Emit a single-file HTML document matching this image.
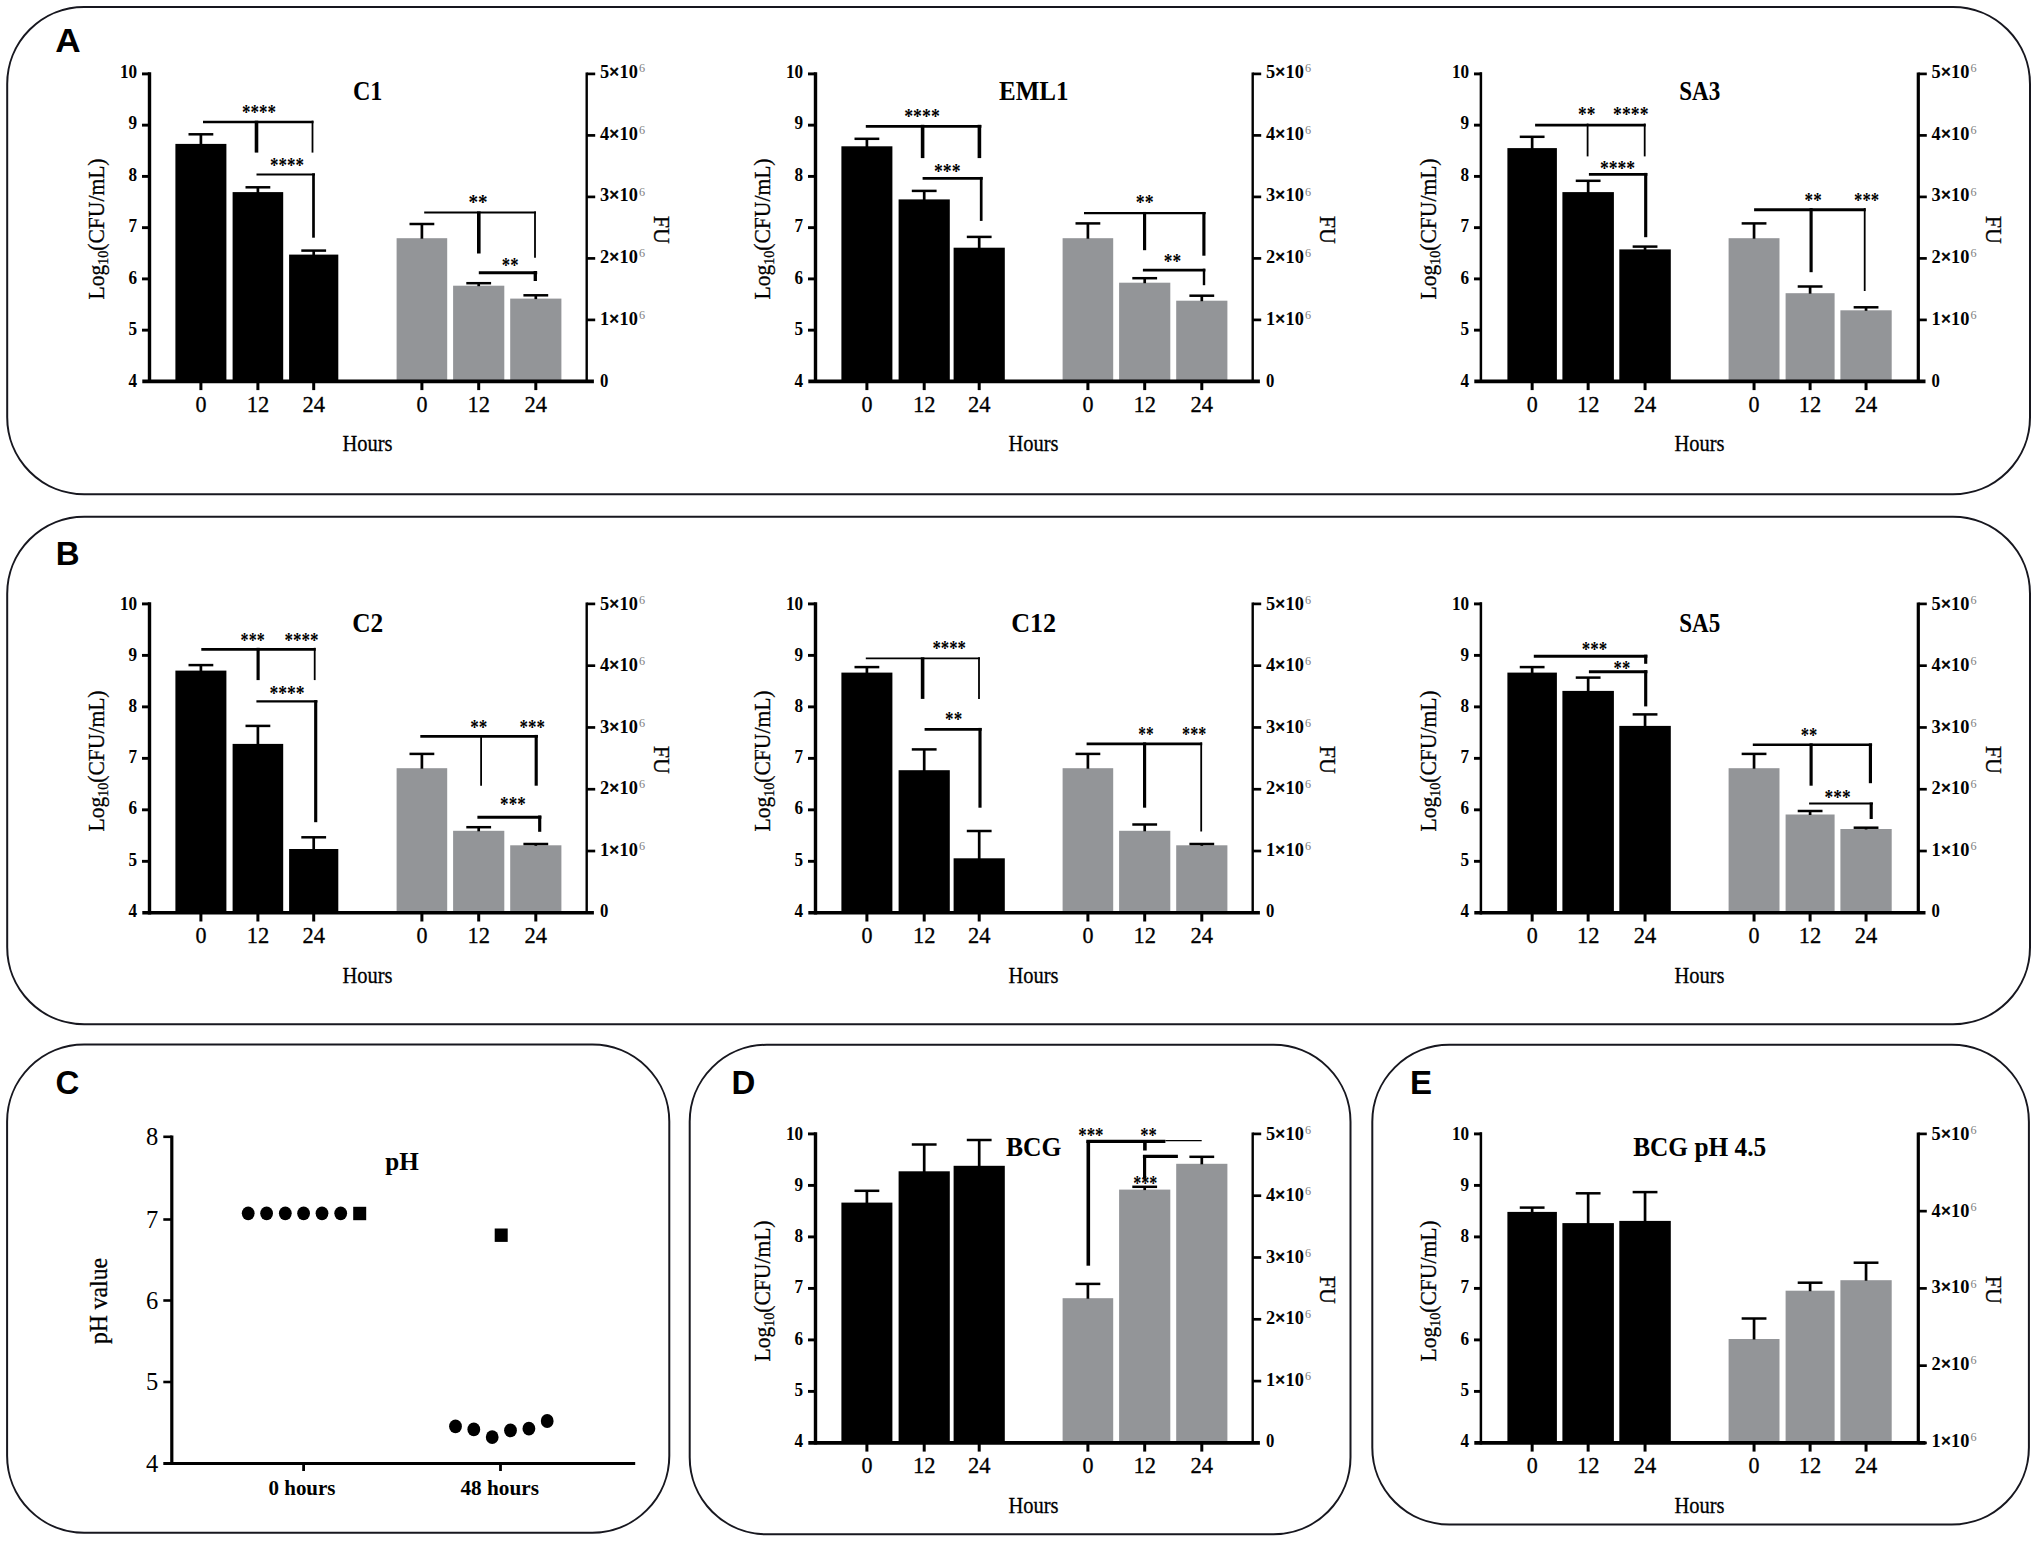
<!DOCTYPE html>
<html lang="en">
<head>
<meta charset="utf-8">
<title>Figure</title>
<style>
html,body{margin:0;padding:0;background:#fff;}
body{width:2038px;height:1543px;overflow:hidden;}
svg{display:block;}
text{white-space:pre;}
</style>
</head>
<body>
<svg width="2038" height="1543" viewBox="0 0 2038 1543">
<rect width="2038" height="1543" fill="#ffffff"/>
<rect x="7.2" y="6.9" width="2022.8" height="487.4" rx="77" ry="77" fill="none" stroke="#17171f" stroke-width="2"/>
<rect x="7.2" y="516.7" width="2022.8" height="507.6" rx="77" ry="77" fill="none" stroke="#17171f" stroke-width="2"/>
<rect x="7.1" y="1044.6" width="662.2" height="488.1" rx="77" ry="77" fill="none" stroke="#17171f" stroke-width="2"/>
<rect x="689.7" y="1044.8" width="660.8" height="489.5" rx="77" ry="77" fill="none" stroke="#17171f" stroke-width="2"/>
<rect x="1372.3" y="1044.8" width="656.6" height="479.7" rx="77" ry="77" fill="none" stroke="#17171f" stroke-width="2"/>
<text x="55.3" y="52" font-size="33" font-family='"Liberation Sans", "DejaVu Sans", sans-serif' text-anchor="start" fill="#000" font-weight="bold" textLength="25.4" lengthAdjust="spacingAndGlyphs" >A</text>
<text x="55.7" y="564.6" font-size="33" font-family='"Liberation Sans", "DejaVu Sans", sans-serif' text-anchor="start" fill="#000" font-weight="bold" >B</text>
<text x="55.5" y="1093.5" font-size="33" font-family='"Liberation Sans", "DejaVu Sans", sans-serif' text-anchor="start" fill="#000" font-weight="bold" >C</text>
<text x="731.5" y="1093.5" font-size="33" font-family='"Liberation Sans", "DejaVu Sans", sans-serif' text-anchor="start" fill="#000" font-weight="bold" >D</text>
<text x="1410" y="1093.5" font-size="33" font-family='"Liberation Sans", "DejaVu Sans", sans-serif' text-anchor="start" fill="#000" font-weight="bold" >E</text>
<rect x="175.4" y="143.9" width="51" height="237.5" fill="#000"/>
<line x1="200.9" y1="134.3" x2="200.9" y2="144.9" stroke="#000" stroke-width="2.7" stroke-linecap="butt"/>
<line x1="188.5" y1="134.3" x2="213.3" y2="134.3" stroke="#000" stroke-width="2.5" stroke-linecap="butt"/>
<rect x="232.6" y="192.1" width="50.6" height="189.3" fill="#000"/>
<line x1="257.9" y1="187.3" x2="257.9" y2="193.1" stroke="#000" stroke-width="2.7" stroke-linecap="butt"/>
<line x1="245.5" y1="187.3" x2="270.3" y2="187.3" stroke="#000" stroke-width="2.5" stroke-linecap="butt"/>
<rect x="289.1" y="254.6" width="49.2" height="126.8" fill="#000"/>
<line x1="313.7" y1="250.6" x2="313.7" y2="255.6" stroke="#000" stroke-width="2.7" stroke-linecap="butt"/>
<line x1="301.3" y1="250.6" x2="326.1" y2="250.6" stroke="#000" stroke-width="2.5" stroke-linecap="butt"/>
<rect x="396.6" y="238.2" width="50.6" height="143.2" fill="#939598"/>
<line x1="421.9" y1="224" x2="421.9" y2="238.7" stroke="#000" stroke-width="2.7" stroke-linecap="butt"/>
<line x1="409.5" y1="224" x2="434.3" y2="224" stroke="#000" stroke-width="2.5" stroke-linecap="butt"/>
<rect x="453.1" y="285.7" width="51.2" height="95.7" fill="#939598"/>
<line x1="478.7" y1="283.2" x2="478.7" y2="286.2" stroke="#000" stroke-width="2.7" stroke-linecap="butt"/>
<line x1="466.3" y1="283.2" x2="491.1" y2="283.2" stroke="#000" stroke-width="2.5" stroke-linecap="butt"/>
<rect x="510.2" y="298.6" width="51.2" height="82.8" fill="#939598"/>
<line x1="535.8" y1="295.3" x2="535.8" y2="299.1" stroke="#000" stroke-width="2.7" stroke-linecap="butt"/>
<line x1="523.4" y1="295.3" x2="548.2" y2="295.3" stroke="#000" stroke-width="2.5" stroke-linecap="butt"/>
<line x1="149.5" y1="72.2" x2="149.5" y2="383.1" stroke="#000" stroke-width="3.4" stroke-linecap="butt"/>
<line x1="142.3" y1="381.4" x2="593.9" y2="381.4" stroke="#000" stroke-width="3.6" stroke-linecap="butt"/>
<line x1="586.7" y1="72.6" x2="586.7" y2="381.4" stroke="#000" stroke-width="2.4" stroke-linecap="butt"/>
<line x1="142" y1="73.9" x2="149.5" y2="73.9" stroke="#000" stroke-width="2.9" stroke-linecap="butt"/>
<text transform="translate(137.2 78) scale(0.88 1)" font-size="19.5" font-family='"Liberation Serif", "DejaVu Serif", serif' font-weight="bold" text-anchor="end">10</text>
<line x1="142" y1="125.15" x2="149.5" y2="125.15" stroke="#000" stroke-width="2.9" stroke-linecap="butt"/>
<text transform="translate(137.2 129.47) scale(0.88 1)" font-size="19.5" font-family='"Liberation Serif", "DejaVu Serif", serif' font-weight="bold" text-anchor="end">9</text>
<line x1="142" y1="176.4" x2="149.5" y2="176.4" stroke="#000" stroke-width="2.9" stroke-linecap="butt"/>
<text transform="translate(137.2 180.93) scale(0.88 1)" font-size="19.5" font-family='"Liberation Serif", "DejaVu Serif", serif' font-weight="bold" text-anchor="end">8</text>
<line x1="142" y1="227.65" x2="149.5" y2="227.65" stroke="#000" stroke-width="2.9" stroke-linecap="butt"/>
<text transform="translate(137.2 232.4) scale(0.88 1)" font-size="19.5" font-family='"Liberation Serif", "DejaVu Serif", serif' font-weight="bold" text-anchor="end">7</text>
<line x1="142" y1="278.9" x2="149.5" y2="278.9" stroke="#000" stroke-width="2.9" stroke-linecap="butt"/>
<text transform="translate(137.2 283.87) scale(0.88 1)" font-size="19.5" font-family='"Liberation Serif", "DejaVu Serif", serif' font-weight="bold" text-anchor="end">6</text>
<line x1="142" y1="330.15" x2="149.5" y2="330.15" stroke="#000" stroke-width="2.9" stroke-linecap="butt"/>
<text transform="translate(137.2 335.33) scale(0.88 1)" font-size="19.5" font-family='"Liberation Serif", "DejaVu Serif", serif' font-weight="bold" text-anchor="end">5</text>
<text transform="translate(137.2 386.8) scale(0.88 1)" font-size="19.5" font-family='"Liberation Serif", "DejaVu Serif", serif' font-weight="bold" text-anchor="end">4</text>
<line x1="586.7" y1="73.9" x2="595.2" y2="73.9" stroke="#000" stroke-width="2.7" stroke-linecap="butt"/>
<text transform="translate(599.9 77.6) scale(0.94 1)" font-size="19.5" font-family='"Liberation Serif", "DejaVu Serif", serif' font-weight="bold">5<tspan stroke="#000" stroke-width="0.7">×</tspan>10<tspan font-size="13" font-weight="normal" fill="#808080" dx="1.2" dy="-5.9">6</tspan></text>
<line x1="586.7" y1="135.4" x2="595.2" y2="135.4" stroke="#000" stroke-width="2.7" stroke-linecap="butt"/>
<text transform="translate(599.9 139.5) scale(0.94 1)" font-size="19.5" font-family='"Liberation Serif", "DejaVu Serif", serif' font-weight="bold">4<tspan stroke="#000" stroke-width="0.7">×</tspan>10<tspan font-size="13" font-weight="normal" fill="#808080" dx="1.2" dy="-5.9">6</tspan></text>
<line x1="586.7" y1="196.9" x2="595.2" y2="196.9" stroke="#000" stroke-width="2.7" stroke-linecap="butt"/>
<text transform="translate(599.9 201.4) scale(0.94 1)" font-size="19.5" font-family='"Liberation Serif", "DejaVu Serif", serif' font-weight="bold">3<tspan stroke="#000" stroke-width="0.7">×</tspan>10<tspan font-size="13" font-weight="normal" fill="#808080" dx="1.2" dy="-5.9">6</tspan></text>
<line x1="586.7" y1="258.4" x2="595.2" y2="258.4" stroke="#000" stroke-width="2.7" stroke-linecap="butt"/>
<text transform="translate(599.9 263.3) scale(0.94 1)" font-size="19.5" font-family='"Liberation Serif", "DejaVu Serif", serif' font-weight="bold">2<tspan stroke="#000" stroke-width="0.7">×</tspan>10<tspan font-size="13" font-weight="normal" fill="#808080" dx="1.2" dy="-5.9">6</tspan></text>
<line x1="586.7" y1="319.9" x2="595.2" y2="319.9" stroke="#000" stroke-width="2.7" stroke-linecap="butt"/>
<text transform="translate(599.9 325.2) scale(0.94 1)" font-size="19.5" font-family='"Liberation Serif", "DejaVu Serif", serif' font-weight="bold">1<tspan stroke="#000" stroke-width="0.7">×</tspan>10<tspan font-size="13" font-weight="normal" fill="#808080" dx="1.2" dy="-5.9">6</tspan></text>
<text transform="translate(599.9 387.1) scale(0.88 1)" font-size="19" font-family='"Liberation Serif", "DejaVu Serif", serif' font-weight="bold">0</text>
<line x1="200.9" y1="381.4" x2="200.9" y2="390.1" stroke="#000" stroke-width="3" stroke-linecap="butt"/>
<text x="200.9" y="412.3" font-size="23.5" font-family='"Liberation Serif", "DejaVu Serif", serif' text-anchor="middle" fill="#000" textLength="11" lengthAdjust="spacingAndGlyphs" stroke="#000" stroke-width="0.3">0</text>
<line x1="257.9" y1="381.4" x2="257.9" y2="390.1" stroke="#000" stroke-width="3" stroke-linecap="butt"/>
<text x="257.9" y="412.3" font-size="23.5" font-family='"Liberation Serif", "DejaVu Serif", serif' text-anchor="middle" fill="#000" textLength="22.5" lengthAdjust="spacingAndGlyphs" stroke="#000" stroke-width="0.3">12</text>
<line x1="313.7" y1="381.4" x2="313.7" y2="390.1" stroke="#000" stroke-width="3" stroke-linecap="butt"/>
<text x="313.7" y="412.3" font-size="23.5" font-family='"Liberation Serif", "DejaVu Serif", serif' text-anchor="middle" fill="#000" textLength="22.5" lengthAdjust="spacingAndGlyphs" stroke="#000" stroke-width="0.3">24</text>
<line x1="421.9" y1="381.4" x2="421.9" y2="390.1" stroke="#000" stroke-width="3" stroke-linecap="butt"/>
<text x="421.9" y="412.3" font-size="23.5" font-family='"Liberation Serif", "DejaVu Serif", serif' text-anchor="middle" fill="#000" textLength="11" lengthAdjust="spacingAndGlyphs" stroke="#000" stroke-width="0.3">0</text>
<line x1="478.7" y1="381.4" x2="478.7" y2="390.1" stroke="#000" stroke-width="3" stroke-linecap="butt"/>
<text x="478.7" y="412.3" font-size="23.5" font-family='"Liberation Serif", "DejaVu Serif", serif' text-anchor="middle" fill="#000" textLength="22.5" lengthAdjust="spacingAndGlyphs" stroke="#000" stroke-width="0.3">12</text>
<line x1="535.8" y1="381.4" x2="535.8" y2="390.1" stroke="#000" stroke-width="3" stroke-linecap="butt"/>
<text x="535.8" y="412.3" font-size="23.5" font-family='"Liberation Serif", "DejaVu Serif", serif' text-anchor="middle" fill="#000" textLength="22.5" lengthAdjust="spacingAndGlyphs" stroke="#000" stroke-width="0.3">24</text>
<text x="367.5" y="451.1" font-size="23.5" font-family='"Liberation Serif", "DejaVu Serif", serif' text-anchor="middle" fill="#000" textLength="50" lengthAdjust="spacingAndGlyphs" stroke="#000" stroke-width="0.3">Hours</text>
<text x="367.7" y="100.2" font-size="28" font-family='"Liberation Serif", "DejaVu Serif", serif' text-anchor="middle" fill="#000" font-weight="bold" textLength="29.5" lengthAdjust="spacingAndGlyphs" >C1</text>
<text transform="translate(104 229) rotate(-90)" font-size="23" stroke="#000" stroke-width="0.3" font-family='"Liberation Serif", "DejaVu Serif", serif' text-anchor="middle" textLength="141" lengthAdjust="spacingAndGlyphs">Log<tspan font-size="15" dy="4">10</tspan><tspan dy="-4">(CFU/mL)</tspan></text>
<text transform="translate(654.3 229.7) rotate(90)" font-size="24" stroke="#000" stroke-width="0.3" font-family='"Liberation Serif", "DejaVu Serif", serif' text-anchor="middle" textLength="28" lengthAdjust="spacingAndGlyphs">FU</text>
<line x1="203" y1="122" x2="313.5" y2="122" stroke="#000" stroke-width="2.34" stroke-linecap="butt"/>
<line x1="256.5" y1="120.7" x2="256.5" y2="152.6" stroke="#000" stroke-width="3.6" stroke-linecap="butt"/>
<line x1="312.5" y1="120.7" x2="312.5" y2="152.6" stroke="#000" stroke-width="1.8" stroke-linecap="butt"/>
<line x1="256.5" y1="174.4" x2="315" y2="174.4" stroke="#000" stroke-width="1.98" stroke-linecap="butt"/>
<line x1="313.5" y1="173.3" x2="313.5" y2="237.7" stroke="#000" stroke-width="2.7" stroke-linecap="butt"/>
<line x1="424.2" y1="212.5" x2="536" y2="212.5" stroke="#000" stroke-width="1.98" stroke-linecap="butt"/>
<line x1="478.8" y1="211.4" x2="478.8" y2="253.5" stroke="#000" stroke-width="3.6" stroke-linecap="butt"/>
<line x1="535" y1="211.4" x2="535" y2="257.7" stroke="#000" stroke-width="1.8" stroke-linecap="butt"/>
<line x1="478.8" y1="272.7" x2="537.2" y2="272.7" stroke="#000" stroke-width="3.06" stroke-linecap="butt"/>
<line x1="535.3" y1="271" x2="535.3" y2="281" stroke="#000" stroke-width="3.33" stroke-linecap="butt"/>
<text x="242" y="119.14" font-size="20.5" font-family='"Liberation Serif", "DejaVu Serif", serif' text-anchor="start" fill="#000" font-weight="bold" textLength="34" lengthAdjust="spacingAndGlyphs" >****</text>
<text x="270" y="172.14" font-size="20.5" font-family='"Liberation Serif", "DejaVu Serif", serif' text-anchor="start" fill="#000" font-weight="bold" textLength="34" lengthAdjust="spacingAndGlyphs" >****</text>
<text x="468.5" y="209.34" font-size="20.5" font-family='"Liberation Serif", "DejaVu Serif", serif' text-anchor="start" fill="#000" font-weight="bold" textLength="19.1" lengthAdjust="spacingAndGlyphs" >**</text>
<text x="501.8" y="271.84" font-size="20.5" font-family='"Liberation Serif", "DejaVu Serif", serif' text-anchor="start" fill="#000" font-weight="bold" textLength="16.7" lengthAdjust="spacingAndGlyphs" >**</text>
<rect x="841.4" y="146.3" width="51" height="235.1" fill="#000"/>
<line x1="866.9" y1="138.8" x2="866.9" y2="147.3" stroke="#000" stroke-width="2.7" stroke-linecap="butt"/>
<line x1="854.5" y1="138.8" x2="879.3" y2="138.8" stroke="#000" stroke-width="2.5" stroke-linecap="butt"/>
<rect x="898.6" y="199.4" width="51.2" height="182" fill="#000"/>
<line x1="924.2" y1="190.9" x2="924.2" y2="200.4" stroke="#000" stroke-width="2.7" stroke-linecap="butt"/>
<line x1="911.8" y1="190.9" x2="936.6" y2="190.9" stroke="#000" stroke-width="2.5" stroke-linecap="butt"/>
<rect x="953.6" y="247.7" width="51.2" height="133.7" fill="#000"/>
<line x1="979.2" y1="236.9" x2="979.2" y2="248.7" stroke="#000" stroke-width="2.7" stroke-linecap="butt"/>
<line x1="966.8" y1="236.9" x2="991.6" y2="236.9" stroke="#000" stroke-width="2.5" stroke-linecap="butt"/>
<rect x="1062.6" y="238.2" width="50.6" height="143.2" fill="#939598"/>
<line x1="1087.9" y1="223.4" x2="1087.9" y2="238.7" stroke="#000" stroke-width="2.7" stroke-linecap="butt"/>
<line x1="1075.5" y1="223.4" x2="1100.3" y2="223.4" stroke="#000" stroke-width="2.5" stroke-linecap="butt"/>
<rect x="1119.1" y="282.7" width="51.2" height="98.7" fill="#939598"/>
<line x1="1144.7" y1="278.2" x2="1144.7" y2="283.2" stroke="#000" stroke-width="2.7" stroke-linecap="butt"/>
<line x1="1132.3" y1="278.2" x2="1157.1" y2="278.2" stroke="#000" stroke-width="2.5" stroke-linecap="butt"/>
<rect x="1176.2" y="300.7" width="51.2" height="80.7" fill="#939598"/>
<line x1="1201.8" y1="295.7" x2="1201.8" y2="301.2" stroke="#000" stroke-width="2.7" stroke-linecap="butt"/>
<line x1="1189.4" y1="295.7" x2="1214.2" y2="295.7" stroke="#000" stroke-width="2.5" stroke-linecap="butt"/>
<line x1="815.5" y1="72.2" x2="815.5" y2="383.1" stroke="#000" stroke-width="3.4" stroke-linecap="butt"/>
<line x1="808.3" y1="381.4" x2="1259.9" y2="381.4" stroke="#000" stroke-width="3.6" stroke-linecap="butt"/>
<line x1="1252.7" y1="72.6" x2="1252.7" y2="381.4" stroke="#000" stroke-width="2.4" stroke-linecap="butt"/>
<line x1="808" y1="73.9" x2="815.5" y2="73.9" stroke="#000" stroke-width="2.9" stroke-linecap="butt"/>
<text transform="translate(803.2 78) scale(0.88 1)" font-size="19.5" font-family='"Liberation Serif", "DejaVu Serif", serif' font-weight="bold" text-anchor="end">10</text>
<line x1="808" y1="125.15" x2="815.5" y2="125.15" stroke="#000" stroke-width="2.9" stroke-linecap="butt"/>
<text transform="translate(803.2 129.47) scale(0.88 1)" font-size="19.5" font-family='"Liberation Serif", "DejaVu Serif", serif' font-weight="bold" text-anchor="end">9</text>
<line x1="808" y1="176.4" x2="815.5" y2="176.4" stroke="#000" stroke-width="2.9" stroke-linecap="butt"/>
<text transform="translate(803.2 180.93) scale(0.88 1)" font-size="19.5" font-family='"Liberation Serif", "DejaVu Serif", serif' font-weight="bold" text-anchor="end">8</text>
<line x1="808" y1="227.65" x2="815.5" y2="227.65" stroke="#000" stroke-width="2.9" stroke-linecap="butt"/>
<text transform="translate(803.2 232.4) scale(0.88 1)" font-size="19.5" font-family='"Liberation Serif", "DejaVu Serif", serif' font-weight="bold" text-anchor="end">7</text>
<line x1="808" y1="278.9" x2="815.5" y2="278.9" stroke="#000" stroke-width="2.9" stroke-linecap="butt"/>
<text transform="translate(803.2 283.87) scale(0.88 1)" font-size="19.5" font-family='"Liberation Serif", "DejaVu Serif", serif' font-weight="bold" text-anchor="end">6</text>
<line x1="808" y1="330.15" x2="815.5" y2="330.15" stroke="#000" stroke-width="2.9" stroke-linecap="butt"/>
<text transform="translate(803.2 335.33) scale(0.88 1)" font-size="19.5" font-family='"Liberation Serif", "DejaVu Serif", serif' font-weight="bold" text-anchor="end">5</text>
<text transform="translate(803.2 386.8) scale(0.88 1)" font-size="19.5" font-family='"Liberation Serif", "DejaVu Serif", serif' font-weight="bold" text-anchor="end">4</text>
<line x1="1252.7" y1="73.9" x2="1261.2" y2="73.9" stroke="#000" stroke-width="2.7" stroke-linecap="butt"/>
<text transform="translate(1265.9 77.6) scale(0.94 1)" font-size="19.5" font-family='"Liberation Serif", "DejaVu Serif", serif' font-weight="bold">5<tspan stroke="#000" stroke-width="0.7">×</tspan>10<tspan font-size="13" font-weight="normal" fill="#808080" dx="1.2" dy="-5.9">6</tspan></text>
<line x1="1252.7" y1="135.4" x2="1261.2" y2="135.4" stroke="#000" stroke-width="2.7" stroke-linecap="butt"/>
<text transform="translate(1265.9 139.5) scale(0.94 1)" font-size="19.5" font-family='"Liberation Serif", "DejaVu Serif", serif' font-weight="bold">4<tspan stroke="#000" stroke-width="0.7">×</tspan>10<tspan font-size="13" font-weight="normal" fill="#808080" dx="1.2" dy="-5.9">6</tspan></text>
<line x1="1252.7" y1="196.9" x2="1261.2" y2="196.9" stroke="#000" stroke-width="2.7" stroke-linecap="butt"/>
<text transform="translate(1265.9 201.4) scale(0.94 1)" font-size="19.5" font-family='"Liberation Serif", "DejaVu Serif", serif' font-weight="bold">3<tspan stroke="#000" stroke-width="0.7">×</tspan>10<tspan font-size="13" font-weight="normal" fill="#808080" dx="1.2" dy="-5.9">6</tspan></text>
<line x1="1252.7" y1="258.4" x2="1261.2" y2="258.4" stroke="#000" stroke-width="2.7" stroke-linecap="butt"/>
<text transform="translate(1265.9 263.3) scale(0.94 1)" font-size="19.5" font-family='"Liberation Serif", "DejaVu Serif", serif' font-weight="bold">2<tspan stroke="#000" stroke-width="0.7">×</tspan>10<tspan font-size="13" font-weight="normal" fill="#808080" dx="1.2" dy="-5.9">6</tspan></text>
<line x1="1252.7" y1="319.9" x2="1261.2" y2="319.9" stroke="#000" stroke-width="2.7" stroke-linecap="butt"/>
<text transform="translate(1265.9 325.2) scale(0.94 1)" font-size="19.5" font-family='"Liberation Serif", "DejaVu Serif", serif' font-weight="bold">1<tspan stroke="#000" stroke-width="0.7">×</tspan>10<tspan font-size="13" font-weight="normal" fill="#808080" dx="1.2" dy="-5.9">6</tspan></text>
<text transform="translate(1265.9 387.1) scale(0.88 1)" font-size="19" font-family='"Liberation Serif", "DejaVu Serif", serif' font-weight="bold">0</text>
<line x1="866.9" y1="381.4" x2="866.9" y2="390.1" stroke="#000" stroke-width="3" stroke-linecap="butt"/>
<text x="866.9" y="412.3" font-size="23.5" font-family='"Liberation Serif", "DejaVu Serif", serif' text-anchor="middle" fill="#000" textLength="11" lengthAdjust="spacingAndGlyphs" stroke="#000" stroke-width="0.3">0</text>
<line x1="924.2" y1="381.4" x2="924.2" y2="390.1" stroke="#000" stroke-width="3" stroke-linecap="butt"/>
<text x="924.2" y="412.3" font-size="23.5" font-family='"Liberation Serif", "DejaVu Serif", serif' text-anchor="middle" fill="#000" textLength="22.5" lengthAdjust="spacingAndGlyphs" stroke="#000" stroke-width="0.3">12</text>
<line x1="979.2" y1="381.4" x2="979.2" y2="390.1" stroke="#000" stroke-width="3" stroke-linecap="butt"/>
<text x="979.2" y="412.3" font-size="23.5" font-family='"Liberation Serif", "DejaVu Serif", serif' text-anchor="middle" fill="#000" textLength="22.5" lengthAdjust="spacingAndGlyphs" stroke="#000" stroke-width="0.3">24</text>
<line x1="1087.9" y1="381.4" x2="1087.9" y2="390.1" stroke="#000" stroke-width="3" stroke-linecap="butt"/>
<text x="1087.9" y="412.3" font-size="23.5" font-family='"Liberation Serif", "DejaVu Serif", serif' text-anchor="middle" fill="#000" textLength="11" lengthAdjust="spacingAndGlyphs" stroke="#000" stroke-width="0.3">0</text>
<line x1="1144.7" y1="381.4" x2="1144.7" y2="390.1" stroke="#000" stroke-width="3" stroke-linecap="butt"/>
<text x="1144.7" y="412.3" font-size="23.5" font-family='"Liberation Serif", "DejaVu Serif", serif' text-anchor="middle" fill="#000" textLength="22.5" lengthAdjust="spacingAndGlyphs" stroke="#000" stroke-width="0.3">12</text>
<line x1="1201.8" y1="381.4" x2="1201.8" y2="390.1" stroke="#000" stroke-width="3" stroke-linecap="butt"/>
<text x="1201.8" y="412.3" font-size="23.5" font-family='"Liberation Serif", "DejaVu Serif", serif' text-anchor="middle" fill="#000" textLength="22.5" lengthAdjust="spacingAndGlyphs" stroke="#000" stroke-width="0.3">24</text>
<text x="1033.5" y="451.1" font-size="23.5" font-family='"Liberation Serif", "DejaVu Serif", serif' text-anchor="middle" fill="#000" textLength="50" lengthAdjust="spacingAndGlyphs" stroke="#000" stroke-width="0.3">Hours</text>
<text x="1033.7" y="100.2" font-size="28" font-family='"Liberation Serif", "DejaVu Serif", serif' text-anchor="middle" fill="#000" font-weight="bold" textLength="69.5" lengthAdjust="spacingAndGlyphs" >EML1</text>
<text transform="translate(770 229) rotate(-90)" font-size="23" stroke="#000" stroke-width="0.3" font-family='"Liberation Serif", "DejaVu Serif", serif' text-anchor="middle" textLength="141" lengthAdjust="spacingAndGlyphs">Log<tspan font-size="15" dy="4">10</tspan><tspan dy="-4">(CFU/mL)</tspan></text>
<text transform="translate(1320.3 229.7) rotate(90)" font-size="24" stroke="#000" stroke-width="0.3" font-family='"Liberation Serif", "DejaVu Serif", serif' text-anchor="middle" textLength="28" lengthAdjust="spacingAndGlyphs">FU</text>
<line x1="865.8" y1="126.3" x2="981.4" y2="126.3" stroke="#000" stroke-width="2.7" stroke-linecap="butt"/>
<line x1="922.6" y1="124.8" x2="922.6" y2="158.1" stroke="#000" stroke-width="3.6" stroke-linecap="butt"/>
<line x1="979.4" y1="124.8" x2="979.4" y2="158.1" stroke="#000" stroke-width="3.6" stroke-linecap="butt"/>
<line x1="922.6" y1="178.4" x2="982.7" y2="178.4" stroke="#000" stroke-width="2.7" stroke-linecap="butt"/>
<line x1="981.2" y1="176.9" x2="981.2" y2="220.9" stroke="#000" stroke-width="2.7" stroke-linecap="butt"/>
<line x1="1084" y1="213.2" x2="1205.6" y2="213.2" stroke="#000" stroke-width="2.25" stroke-linecap="butt"/>
<line x1="1144.6" y1="211.95" x2="1144.6" y2="250.2" stroke="#000" stroke-width="3.15" stroke-linecap="butt"/>
<line x1="1203.9" y1="211.95" x2="1203.9" y2="255.7" stroke="#000" stroke-width="3.15" stroke-linecap="butt"/>
<line x1="1142.9" y1="270.2" x2="1205.4" y2="270.2" stroke="#000" stroke-width="2.7" stroke-linecap="butt"/>
<line x1="1204" y1="268.7" x2="1204" y2="285.2" stroke="#000" stroke-width="2.43" stroke-linecap="butt"/>
<text x="904.2" y="122.84" font-size="20.5" font-family='"Liberation Serif", "DejaVu Serif", serif' text-anchor="start" fill="#000" font-weight="bold" textLength="35.6" lengthAdjust="spacingAndGlyphs" >****</text>
<text x="933.9" y="177.84" font-size="20.5" font-family='"Liberation Serif", "DejaVu Serif", serif' text-anchor="start" fill="#000" font-weight="bold" textLength="26.6" lengthAdjust="spacingAndGlyphs" >***</text>
<text x="1135.8" y="208.84" font-size="20.5" font-family='"Liberation Serif", "DejaVu Serif", serif' text-anchor="start" fill="#000" font-weight="bold" textLength="17.9" lengthAdjust="spacingAndGlyphs" >**</text>
<text x="1163.8" y="268.04" font-size="20.5" font-family='"Liberation Serif", "DejaVu Serif", serif' text-anchor="start" fill="#000" font-weight="bold" textLength="17.4" lengthAdjust="spacingAndGlyphs" >**</text>
<rect x="1507.4" y="148.1" width="49.5" height="233.3" fill="#000"/>
<line x1="1532.15" y1="136.8" x2="1532.15" y2="149.1" stroke="#000" stroke-width="2.7" stroke-linecap="butt"/>
<line x1="1519.75" y1="136.8" x2="1544.55" y2="136.8" stroke="#000" stroke-width="2.5" stroke-linecap="butt"/>
<rect x="1562.4" y="192.1" width="51.5" height="189.3" fill="#000"/>
<line x1="1588.15" y1="180.8" x2="1588.15" y2="193.1" stroke="#000" stroke-width="2.7" stroke-linecap="butt"/>
<line x1="1575.75" y1="180.8" x2="1600.55" y2="180.8" stroke="#000" stroke-width="2.5" stroke-linecap="butt"/>
<rect x="1619.3" y="249.4" width="51.5" height="132" fill="#000"/>
<line x1="1645.05" y1="246.6" x2="1645.05" y2="250.4" stroke="#000" stroke-width="2.7" stroke-linecap="butt"/>
<line x1="1632.65" y1="246.6" x2="1657.45" y2="246.6" stroke="#000" stroke-width="2.5" stroke-linecap="butt"/>
<rect x="1728.6" y="238.2" width="50.9" height="143.2" fill="#939598"/>
<line x1="1754.05" y1="223.4" x2="1754.05" y2="238.7" stroke="#000" stroke-width="2.7" stroke-linecap="butt"/>
<line x1="1741.65" y1="223.4" x2="1766.45" y2="223.4" stroke="#000" stroke-width="2.5" stroke-linecap="butt"/>
<rect x="1785.6" y="293.2" width="49" height="88.2" fill="#939598"/>
<line x1="1810.1" y1="286.5" x2="1810.1" y2="293.7" stroke="#000" stroke-width="2.7" stroke-linecap="butt"/>
<line x1="1797.7" y1="286.5" x2="1822.5" y2="286.5" stroke="#000" stroke-width="2.5" stroke-linecap="butt"/>
<rect x="1840.4" y="310.3" width="51.3" height="71.1" fill="#939598"/>
<line x1="1866.05" y1="307.3" x2="1866.05" y2="310.8" stroke="#000" stroke-width="2.7" stroke-linecap="butt"/>
<line x1="1853.65" y1="307.3" x2="1878.45" y2="307.3" stroke="#000" stroke-width="2.5" stroke-linecap="butt"/>
<line x1="1480.9" y1="72.2" x2="1480.9" y2="383.1" stroke="#000" stroke-width="2.5" stroke-linecap="butt"/>
<line x1="1474.3" y1="381.4" x2="1925.5" y2="381.4" stroke="#000" stroke-width="3.6" stroke-linecap="butt"/>
<line x1="1918.3" y1="72.6" x2="1918.3" y2="381.4" stroke="#000" stroke-width="3.2" stroke-linecap="butt"/>
<line x1="1474" y1="73.9" x2="1481.5" y2="73.9" stroke="#000" stroke-width="2.9" stroke-linecap="butt"/>
<text transform="translate(1469.2 78) scale(0.88 1)" font-size="19.5" font-family='"Liberation Serif", "DejaVu Serif", serif' font-weight="bold" text-anchor="end">10</text>
<line x1="1474" y1="125.15" x2="1481.5" y2="125.15" stroke="#000" stroke-width="2.9" stroke-linecap="butt"/>
<text transform="translate(1469.2 129.47) scale(0.88 1)" font-size="19.5" font-family='"Liberation Serif", "DejaVu Serif", serif' font-weight="bold" text-anchor="end">9</text>
<line x1="1474" y1="176.4" x2="1481.5" y2="176.4" stroke="#000" stroke-width="2.9" stroke-linecap="butt"/>
<text transform="translate(1469.2 180.93) scale(0.88 1)" font-size="19.5" font-family='"Liberation Serif", "DejaVu Serif", serif' font-weight="bold" text-anchor="end">8</text>
<line x1="1474" y1="227.65" x2="1481.5" y2="227.65" stroke="#000" stroke-width="2.9" stroke-linecap="butt"/>
<text transform="translate(1469.2 232.4) scale(0.88 1)" font-size="19.5" font-family='"Liberation Serif", "DejaVu Serif", serif' font-weight="bold" text-anchor="end">7</text>
<line x1="1474" y1="278.9" x2="1481.5" y2="278.9" stroke="#000" stroke-width="2.9" stroke-linecap="butt"/>
<text transform="translate(1469.2 283.87) scale(0.88 1)" font-size="19.5" font-family='"Liberation Serif", "DejaVu Serif", serif' font-weight="bold" text-anchor="end">6</text>
<line x1="1474" y1="330.15" x2="1481.5" y2="330.15" stroke="#000" stroke-width="2.9" stroke-linecap="butt"/>
<text transform="translate(1469.2 335.33) scale(0.88 1)" font-size="19.5" font-family='"Liberation Serif", "DejaVu Serif", serif' font-weight="bold" text-anchor="end">5</text>
<text transform="translate(1469.2 386.8) scale(0.88 1)" font-size="19.5" font-family='"Liberation Serif", "DejaVu Serif", serif' font-weight="bold" text-anchor="end">4</text>
<line x1="1918.3" y1="73.9" x2="1926.8" y2="73.9" stroke="#000" stroke-width="2.7" stroke-linecap="butt"/>
<text transform="translate(1931.5 77.6) scale(0.94 1)" font-size="19.5" font-family='"Liberation Serif", "DejaVu Serif", serif' font-weight="bold">5<tspan stroke="#000" stroke-width="0.7">×</tspan>10<tspan font-size="13" font-weight="normal" fill="#808080" dx="1.2" dy="-5.9">6</tspan></text>
<line x1="1918.3" y1="135.4" x2="1926.8" y2="135.4" stroke="#000" stroke-width="2.7" stroke-linecap="butt"/>
<text transform="translate(1931.5 139.5) scale(0.94 1)" font-size="19.5" font-family='"Liberation Serif", "DejaVu Serif", serif' font-weight="bold">4<tspan stroke="#000" stroke-width="0.7">×</tspan>10<tspan font-size="13" font-weight="normal" fill="#808080" dx="1.2" dy="-5.9">6</tspan></text>
<line x1="1918.3" y1="196.9" x2="1926.8" y2="196.9" stroke="#000" stroke-width="2.7" stroke-linecap="butt"/>
<text transform="translate(1931.5 201.4) scale(0.94 1)" font-size="19.5" font-family='"Liberation Serif", "DejaVu Serif", serif' font-weight="bold">3<tspan stroke="#000" stroke-width="0.7">×</tspan>10<tspan font-size="13" font-weight="normal" fill="#808080" dx="1.2" dy="-5.9">6</tspan></text>
<line x1="1918.3" y1="258.4" x2="1926.8" y2="258.4" stroke="#000" stroke-width="2.7" stroke-linecap="butt"/>
<text transform="translate(1931.5 263.3) scale(0.94 1)" font-size="19.5" font-family='"Liberation Serif", "DejaVu Serif", serif' font-weight="bold">2<tspan stroke="#000" stroke-width="0.7">×</tspan>10<tspan font-size="13" font-weight="normal" fill="#808080" dx="1.2" dy="-5.9">6</tspan></text>
<line x1="1918.3" y1="319.9" x2="1926.8" y2="319.9" stroke="#000" stroke-width="2.7" stroke-linecap="butt"/>
<text transform="translate(1931.5 325.2) scale(0.94 1)" font-size="19.5" font-family='"Liberation Serif", "DejaVu Serif", serif' font-weight="bold">1<tspan stroke="#000" stroke-width="0.7">×</tspan>10<tspan font-size="13" font-weight="normal" fill="#808080" dx="1.2" dy="-5.9">6</tspan></text>
<text transform="translate(1931.5 387.1) scale(0.88 1)" font-size="19" font-family='"Liberation Serif", "DejaVu Serif", serif' font-weight="bold">0</text>
<line x1="1532.15" y1="381.4" x2="1532.15" y2="390.1" stroke="#000" stroke-width="3" stroke-linecap="butt"/>
<text x="1532.15" y="412.3" font-size="23.5" font-family='"Liberation Serif", "DejaVu Serif", serif' text-anchor="middle" fill="#000" textLength="11" lengthAdjust="spacingAndGlyphs" stroke="#000" stroke-width="0.3">0</text>
<line x1="1588.15" y1="381.4" x2="1588.15" y2="390.1" stroke="#000" stroke-width="3" stroke-linecap="butt"/>
<text x="1588.15" y="412.3" font-size="23.5" font-family='"Liberation Serif", "DejaVu Serif", serif' text-anchor="middle" fill="#000" textLength="22.5" lengthAdjust="spacingAndGlyphs" stroke="#000" stroke-width="0.3">12</text>
<line x1="1645.05" y1="381.4" x2="1645.05" y2="390.1" stroke="#000" stroke-width="3" stroke-linecap="butt"/>
<text x="1645.05" y="412.3" font-size="23.5" font-family='"Liberation Serif", "DejaVu Serif", serif' text-anchor="middle" fill="#000" textLength="22.5" lengthAdjust="spacingAndGlyphs" stroke="#000" stroke-width="0.3">24</text>
<line x1="1754.05" y1="381.4" x2="1754.05" y2="390.1" stroke="#000" stroke-width="3" stroke-linecap="butt"/>
<text x="1754.05" y="412.3" font-size="23.5" font-family='"Liberation Serif", "DejaVu Serif", serif' text-anchor="middle" fill="#000" textLength="11" lengthAdjust="spacingAndGlyphs" stroke="#000" stroke-width="0.3">0</text>
<line x1="1810.1" y1="381.4" x2="1810.1" y2="390.1" stroke="#000" stroke-width="3" stroke-linecap="butt"/>
<text x="1810.1" y="412.3" font-size="23.5" font-family='"Liberation Serif", "DejaVu Serif", serif' text-anchor="middle" fill="#000" textLength="22.5" lengthAdjust="spacingAndGlyphs" stroke="#000" stroke-width="0.3">12</text>
<line x1="1866.05" y1="381.4" x2="1866.05" y2="390.1" stroke="#000" stroke-width="3" stroke-linecap="butt"/>
<text x="1866.05" y="412.3" font-size="23.5" font-family='"Liberation Serif", "DejaVu Serif", serif' text-anchor="middle" fill="#000" textLength="22.5" lengthAdjust="spacingAndGlyphs" stroke="#000" stroke-width="0.3">24</text>
<text x="1699.5" y="451.1" font-size="23.5" font-family='"Liberation Serif", "DejaVu Serif", serif' text-anchor="middle" fill="#000" textLength="50" lengthAdjust="spacingAndGlyphs" stroke="#000" stroke-width="0.3">Hours</text>
<text x="1699.7" y="100.2" font-size="28" font-family='"Liberation Serif", "DejaVu Serif", serif' text-anchor="middle" fill="#000" font-weight="bold" textLength="41" lengthAdjust="spacingAndGlyphs" >SA3</text>
<text transform="translate(1436 229) rotate(-90)" font-size="23" stroke="#000" stroke-width="0.3" font-family='"Liberation Serif", "DejaVu Serif", serif' text-anchor="middle" textLength="141" lengthAdjust="spacingAndGlyphs">Log<tspan font-size="15" dy="4">10</tspan><tspan dy="-4">(CFU/mL)</tspan></text>
<text transform="translate(1985.9 229.7) rotate(90)" font-size="24" stroke="#000" stroke-width="0.3" font-family='"Liberation Serif", "DejaVu Serif", serif' text-anchor="middle" textLength="28" lengthAdjust="spacingAndGlyphs">FU</text>
<line x1="1535.1" y1="125.1" x2="1645.7" y2="125.1" stroke="#000" stroke-width="2.7" stroke-linecap="butt"/>
<line x1="1587.6" y1="123.6" x2="1587.6" y2="156.4" stroke="#000" stroke-width="1.8" stroke-linecap="butt"/>
<line x1="1644.7" y1="123.6" x2="1644.7" y2="156.4" stroke="#000" stroke-width="1.8" stroke-linecap="butt"/>
<line x1="1588.9" y1="174.4" x2="1647.4" y2="174.4" stroke="#000" stroke-width="2.7" stroke-linecap="butt"/>
<line x1="1645.7" y1="172.9" x2="1645.7" y2="237.2" stroke="#000" stroke-width="3.15" stroke-linecap="butt"/>
<line x1="1754.1" y1="209.7" x2="1865.7" y2="209.7" stroke="#000" stroke-width="2.88" stroke-linecap="butt"/>
<line x1="1811.1" y1="208.1" x2="1811.1" y2="272.2" stroke="#000" stroke-width="3.15" stroke-linecap="butt"/>
<line x1="1864.7" y1="208.1" x2="1864.7" y2="291" stroke="#000" stroke-width="1.8" stroke-linecap="butt"/>
<text x="1578.1" y="120.84" font-size="20.5" font-family='"Liberation Serif", "DejaVu Serif", serif' text-anchor="start" fill="#000" font-weight="bold" textLength="17.4" lengthAdjust="spacingAndGlyphs" >**</text>
<text x="1613.1" y="120.84" font-size="20.5" font-family='"Liberation Serif", "DejaVu Serif", serif' text-anchor="start" fill="#000" font-weight="bold" textLength="35.4" lengthAdjust="spacingAndGlyphs" >****</text>
<text x="1599.9" y="174.84" font-size="20.5" font-family='"Liberation Serif", "DejaVu Serif", serif' text-anchor="start" fill="#000" font-weight="bold" textLength="35.3" lengthAdjust="spacingAndGlyphs" >****</text>
<text x="1804.6" y="207.24" font-size="20.5" font-family='"Liberation Serif", "DejaVu Serif", serif' text-anchor="start" fill="#000" font-weight="bold" textLength="17.1" lengthAdjust="spacingAndGlyphs" >**</text>
<text x="1854.1" y="207.24" font-size="20.5" font-family='"Liberation Serif", "DejaVu Serif", serif' text-anchor="start" fill="#000" font-weight="bold" textLength="25.1" lengthAdjust="spacingAndGlyphs" >***</text>
<rect x="175.4" y="670.6" width="51" height="242.2" fill="#000"/>
<line x1="200.9" y1="665.1" x2="200.9" y2="671.6" stroke="#000" stroke-width="2.7" stroke-linecap="butt"/>
<line x1="188.5" y1="665.1" x2="213.3" y2="665.1" stroke="#000" stroke-width="2.5" stroke-linecap="butt"/>
<rect x="232.6" y="743.9" width="50.6" height="168.9" fill="#000"/>
<line x1="257.9" y1="725.9" x2="257.9" y2="744.9" stroke="#000" stroke-width="2.7" stroke-linecap="butt"/>
<line x1="245.5" y1="725.9" x2="270.3" y2="725.9" stroke="#000" stroke-width="2.5" stroke-linecap="butt"/>
<rect x="289.1" y="849" width="49.2" height="63.8" fill="#000"/>
<line x1="313.7" y1="837.3" x2="313.7" y2="850" stroke="#000" stroke-width="2.7" stroke-linecap="butt"/>
<line x1="301.3" y1="837.3" x2="326.1" y2="837.3" stroke="#000" stroke-width="2.5" stroke-linecap="butt"/>
<rect x="396.6" y="768.2" width="50.6" height="144.6" fill="#939598"/>
<line x1="421.9" y1="753.9" x2="421.9" y2="768.7" stroke="#000" stroke-width="2.7" stroke-linecap="butt"/>
<line x1="409.5" y1="753.9" x2="434.3" y2="753.9" stroke="#000" stroke-width="2.5" stroke-linecap="butt"/>
<rect x="453.1" y="830.8" width="51.2" height="82" fill="#939598"/>
<line x1="478.7" y1="827.2" x2="478.7" y2="831.3" stroke="#000" stroke-width="2.7" stroke-linecap="butt"/>
<line x1="466.3" y1="827.2" x2="491.1" y2="827.2" stroke="#000" stroke-width="2.5" stroke-linecap="butt"/>
<rect x="510.2" y="845.3" width="51.2" height="67.5" fill="#939598"/>
<line x1="535.8" y1="844" x2="535.8" y2="845.8" stroke="#000" stroke-width="2.7" stroke-linecap="butt"/>
<line x1="523.4" y1="844" x2="548.2" y2="844" stroke="#000" stroke-width="2.5" stroke-linecap="butt"/>
<line x1="149.5" y1="602.2" x2="149.5" y2="914.5" stroke="#000" stroke-width="3.4" stroke-linecap="butt"/>
<line x1="142.3" y1="912.8" x2="593.9" y2="912.8" stroke="#000" stroke-width="3.6" stroke-linecap="butt"/>
<line x1="586.7" y1="602.6" x2="586.7" y2="912.8" stroke="#000" stroke-width="2.4" stroke-linecap="butt"/>
<line x1="142" y1="603.9" x2="149.5" y2="603.9" stroke="#000" stroke-width="2.9" stroke-linecap="butt"/>
<text transform="translate(137.2 609.5) scale(0.88 1)" font-size="19.5" font-family='"Liberation Serif", "DejaVu Serif", serif' font-weight="bold" text-anchor="end">10</text>
<line x1="142" y1="655.38" x2="149.5" y2="655.38" stroke="#000" stroke-width="2.9" stroke-linecap="butt"/>
<text transform="translate(137.2 660.73) scale(0.88 1)" font-size="19.5" font-family='"Liberation Serif", "DejaVu Serif", serif' font-weight="bold" text-anchor="end">9</text>
<line x1="142" y1="706.87" x2="149.5" y2="706.87" stroke="#000" stroke-width="2.9" stroke-linecap="butt"/>
<text transform="translate(137.2 711.97) scale(0.88 1)" font-size="19.5" font-family='"Liberation Serif", "DejaVu Serif", serif' font-weight="bold" text-anchor="end">8</text>
<line x1="142" y1="758.35" x2="149.5" y2="758.35" stroke="#000" stroke-width="2.9" stroke-linecap="butt"/>
<text transform="translate(137.2 763.2) scale(0.88 1)" font-size="19.5" font-family='"Liberation Serif", "DejaVu Serif", serif' font-weight="bold" text-anchor="end">7</text>
<line x1="142" y1="809.83" x2="149.5" y2="809.83" stroke="#000" stroke-width="2.9" stroke-linecap="butt"/>
<text transform="translate(137.2 814.43) scale(0.88 1)" font-size="19.5" font-family='"Liberation Serif", "DejaVu Serif", serif' font-weight="bold" text-anchor="end">6</text>
<line x1="142" y1="861.32" x2="149.5" y2="861.32" stroke="#000" stroke-width="2.9" stroke-linecap="butt"/>
<text transform="translate(137.2 865.67) scale(0.88 1)" font-size="19.5" font-family='"Liberation Serif", "DejaVu Serif", serif' font-weight="bold" text-anchor="end">5</text>
<text transform="translate(137.2 916.9) scale(0.88 1)" font-size="19.5" font-family='"Liberation Serif", "DejaVu Serif", serif' font-weight="bold" text-anchor="end">4</text>
<line x1="586.7" y1="603.9" x2="595.2" y2="603.9" stroke="#000" stroke-width="2.7" stroke-linecap="butt"/>
<text transform="translate(599.9 609.7) scale(0.94 1)" font-size="19.5" font-family='"Liberation Serif", "DejaVu Serif", serif' font-weight="bold">5<tspan stroke="#000" stroke-width="0.7">×</tspan>10<tspan font-size="13" font-weight="normal" fill="#808080" dx="1.2" dy="-5.9">6</tspan></text>
<line x1="586.7" y1="665.68" x2="595.2" y2="665.68" stroke="#000" stroke-width="2.7" stroke-linecap="butt"/>
<text transform="translate(599.9 671.16) scale(0.94 1)" font-size="19.5" font-family='"Liberation Serif", "DejaVu Serif", serif' font-weight="bold">4<tspan stroke="#000" stroke-width="0.7">×</tspan>10<tspan font-size="13" font-weight="normal" fill="#808080" dx="1.2" dy="-5.9">6</tspan></text>
<line x1="586.7" y1="727.46" x2="595.2" y2="727.46" stroke="#000" stroke-width="2.7" stroke-linecap="butt"/>
<text transform="translate(599.9 732.62) scale(0.94 1)" font-size="19.5" font-family='"Liberation Serif", "DejaVu Serif", serif' font-weight="bold">3<tspan stroke="#000" stroke-width="0.7">×</tspan>10<tspan font-size="13" font-weight="normal" fill="#808080" dx="1.2" dy="-5.9">6</tspan></text>
<line x1="586.7" y1="789.24" x2="595.2" y2="789.24" stroke="#000" stroke-width="2.7" stroke-linecap="butt"/>
<text transform="translate(599.9 794.08) scale(0.94 1)" font-size="19.5" font-family='"Liberation Serif", "DejaVu Serif", serif' font-weight="bold">2<tspan stroke="#000" stroke-width="0.7">×</tspan>10<tspan font-size="13" font-weight="normal" fill="#808080" dx="1.2" dy="-5.9">6</tspan></text>
<line x1="586.7" y1="851.02" x2="595.2" y2="851.02" stroke="#000" stroke-width="2.7" stroke-linecap="butt"/>
<text transform="translate(599.9 855.54) scale(0.94 1)" font-size="19.5" font-family='"Liberation Serif", "DejaVu Serif", serif' font-weight="bold">1<tspan stroke="#000" stroke-width="0.7">×</tspan>10<tspan font-size="13" font-weight="normal" fill="#808080" dx="1.2" dy="-5.9">6</tspan></text>
<text transform="translate(599.9 917) scale(0.88 1)" font-size="19" font-family='"Liberation Serif", "DejaVu Serif", serif' font-weight="bold">0</text>
<line x1="200.9" y1="912.8" x2="200.9" y2="921.5" stroke="#000" stroke-width="3" stroke-linecap="butt"/>
<text x="200.9" y="942.7" font-size="23.5" font-family='"Liberation Serif", "DejaVu Serif", serif' text-anchor="middle" fill="#000" textLength="11" lengthAdjust="spacingAndGlyphs" stroke="#000" stroke-width="0.3">0</text>
<line x1="257.9" y1="912.8" x2="257.9" y2="921.5" stroke="#000" stroke-width="3" stroke-linecap="butt"/>
<text x="257.9" y="942.7" font-size="23.5" font-family='"Liberation Serif", "DejaVu Serif", serif' text-anchor="middle" fill="#000" textLength="22.5" lengthAdjust="spacingAndGlyphs" stroke="#000" stroke-width="0.3">12</text>
<line x1="313.7" y1="912.8" x2="313.7" y2="921.5" stroke="#000" stroke-width="3" stroke-linecap="butt"/>
<text x="313.7" y="942.7" font-size="23.5" font-family='"Liberation Serif", "DejaVu Serif", serif' text-anchor="middle" fill="#000" textLength="22.5" lengthAdjust="spacingAndGlyphs" stroke="#000" stroke-width="0.3">24</text>
<line x1="421.9" y1="912.8" x2="421.9" y2="921.5" stroke="#000" stroke-width="3" stroke-linecap="butt"/>
<text x="421.9" y="942.7" font-size="23.5" font-family='"Liberation Serif", "DejaVu Serif", serif' text-anchor="middle" fill="#000" textLength="11" lengthAdjust="spacingAndGlyphs" stroke="#000" stroke-width="0.3">0</text>
<line x1="478.7" y1="912.8" x2="478.7" y2="921.5" stroke="#000" stroke-width="3" stroke-linecap="butt"/>
<text x="478.7" y="942.7" font-size="23.5" font-family='"Liberation Serif", "DejaVu Serif", serif' text-anchor="middle" fill="#000" textLength="22.5" lengthAdjust="spacingAndGlyphs" stroke="#000" stroke-width="0.3">12</text>
<line x1="535.8" y1="912.8" x2="535.8" y2="921.5" stroke="#000" stroke-width="3" stroke-linecap="butt"/>
<text x="535.8" y="942.7" font-size="23.5" font-family='"Liberation Serif", "DejaVu Serif", serif' text-anchor="middle" fill="#000" textLength="22.5" lengthAdjust="spacingAndGlyphs" stroke="#000" stroke-width="0.3">24</text>
<text x="367.5" y="983.3" font-size="23.5" font-family='"Liberation Serif", "DejaVu Serif", serif' text-anchor="middle" fill="#000" textLength="50" lengthAdjust="spacingAndGlyphs" stroke="#000" stroke-width="0.3">Hours</text>
<text x="367.7" y="631.7" font-size="28" font-family='"Liberation Serif", "DejaVu Serif", serif' text-anchor="middle" fill="#000" font-weight="bold" textLength="31" lengthAdjust="spacingAndGlyphs" >C2</text>
<text transform="translate(104 761) rotate(-90)" font-size="23" stroke="#000" stroke-width="0.3" font-family='"Liberation Serif", "DejaVu Serif", serif' text-anchor="middle" textLength="141" lengthAdjust="spacingAndGlyphs">Log<tspan font-size="15" dy="4">10</tspan><tspan dy="-4">(CFU/mL)</tspan></text>
<text transform="translate(654.3 759.7) rotate(90)" font-size="24" stroke="#000" stroke-width="0.3" font-family='"Liberation Serif", "DejaVu Serif", serif' text-anchor="middle" textLength="28" lengthAdjust="spacingAndGlyphs">FU</text>
<line x1="201.3" y1="649.3" x2="315.7" y2="649.3" stroke="#000" stroke-width="2.7" stroke-linecap="butt"/>
<line x1="258.1" y1="647.8" x2="258.1" y2="680.1" stroke="#000" stroke-width="3.15" stroke-linecap="butt"/>
<line x1="314.7" y1="647.8" x2="314.7" y2="680.1" stroke="#000" stroke-width="1.8" stroke-linecap="butt"/>
<line x1="256.4" y1="701.4" x2="317.4" y2="701.4" stroke="#000" stroke-width="2.25" stroke-linecap="butt"/>
<line x1="315.7" y1="700.15" x2="315.7" y2="822.2" stroke="#000" stroke-width="3.15" stroke-linecap="butt"/>
<line x1="420.3" y1="736.4" x2="537.9" y2="736.4" stroke="#000" stroke-width="2.7" stroke-linecap="butt"/>
<line x1="481.1" y1="734.9" x2="481.1" y2="785.7" stroke="#000" stroke-width="1.8" stroke-linecap="butt"/>
<line x1="536.2" y1="734.9" x2="536.2" y2="785.7" stroke="#000" stroke-width="3.15" stroke-linecap="butt"/>
<line x1="477.4" y1="817.2" x2="541.4" y2="817.2" stroke="#000" stroke-width="3.15" stroke-linecap="butt"/>
<line x1="539.7" y1="815.45" x2="539.7" y2="831.8" stroke="#000" stroke-width="3.15" stroke-linecap="butt"/>
<text x="240.6" y="647.14" font-size="20.5" font-family='"Liberation Serif", "DejaVu Serif", serif' text-anchor="start" fill="#000" font-weight="bold" textLength="24.1" lengthAdjust="spacingAndGlyphs" >***</text>
<text x="284.4" y="647.14" font-size="20.5" font-family='"Liberation Serif", "DejaVu Serif", serif' text-anchor="start" fill="#000" font-weight="bold" textLength="34.1" lengthAdjust="spacingAndGlyphs" >****</text>
<text x="269.4" y="700.44" font-size="20.5" font-family='"Liberation Serif", "DejaVu Serif", serif' text-anchor="start" fill="#000" font-weight="bold" textLength="35.3" lengthAdjust="spacingAndGlyphs" >****</text>
<text x="470.3" y="733.94" font-size="20.5" font-family='"Liberation Serif", "DejaVu Serif", serif' text-anchor="start" fill="#000" font-weight="bold" textLength="17.1" lengthAdjust="spacingAndGlyphs" >**</text>
<text x="519.6" y="733.94" font-size="20.5" font-family='"Liberation Serif", "DejaVu Serif", serif' text-anchor="start" fill="#000" font-weight="bold" textLength="25.4" lengthAdjust="spacingAndGlyphs" >***</text>
<text x="500.1" y="811.04" font-size="20.5" font-family='"Liberation Serif", "DejaVu Serif", serif' text-anchor="start" fill="#000" font-weight="bold" textLength="25.6" lengthAdjust="spacingAndGlyphs" >***</text>
<rect x="841.4" y="672.6" width="51" height="240.2" fill="#000"/>
<line x1="866.9" y1="667.1" x2="866.9" y2="673.6" stroke="#000" stroke-width="2.7" stroke-linecap="butt"/>
<line x1="854.5" y1="667.1" x2="879.3" y2="667.1" stroke="#000" stroke-width="2.5" stroke-linecap="butt"/>
<rect x="898.6" y="770.2" width="51.2" height="142.6" fill="#000"/>
<line x1="924.2" y1="749.4" x2="924.2" y2="771.2" stroke="#000" stroke-width="2.7" stroke-linecap="butt"/>
<line x1="911.8" y1="749.4" x2="936.6" y2="749.4" stroke="#000" stroke-width="2.5" stroke-linecap="butt"/>
<rect x="953.6" y="858.3" width="51.2" height="54.5" fill="#000"/>
<line x1="979.2" y1="831" x2="979.2" y2="859.3" stroke="#000" stroke-width="2.7" stroke-linecap="butt"/>
<line x1="966.8" y1="831" x2="991.6" y2="831" stroke="#000" stroke-width="2.5" stroke-linecap="butt"/>
<rect x="1062.6" y="768.2" width="50.6" height="144.6" fill="#939598"/>
<line x1="1087.9" y1="753.9" x2="1087.9" y2="768.7" stroke="#000" stroke-width="2.7" stroke-linecap="butt"/>
<line x1="1075.5" y1="753.9" x2="1100.3" y2="753.9" stroke="#000" stroke-width="2.5" stroke-linecap="butt"/>
<rect x="1119.1" y="830.8" width="51.2" height="82" fill="#939598"/>
<line x1="1144.7" y1="824.5" x2="1144.7" y2="831.3" stroke="#000" stroke-width="2.7" stroke-linecap="butt"/>
<line x1="1132.3" y1="824.5" x2="1157.1" y2="824.5" stroke="#000" stroke-width="2.5" stroke-linecap="butt"/>
<rect x="1176.2" y="845.3" width="51.2" height="67.5" fill="#939598"/>
<line x1="1201.8" y1="844" x2="1201.8" y2="845.8" stroke="#000" stroke-width="2.7" stroke-linecap="butt"/>
<line x1="1189.4" y1="844" x2="1214.2" y2="844" stroke="#000" stroke-width="2.5" stroke-linecap="butt"/>
<line x1="815.5" y1="602.2" x2="815.5" y2="914.5" stroke="#000" stroke-width="3.4" stroke-linecap="butt"/>
<line x1="808.3" y1="912.8" x2="1259.9" y2="912.8" stroke="#000" stroke-width="3.6" stroke-linecap="butt"/>
<line x1="1252.7" y1="602.6" x2="1252.7" y2="912.8" stroke="#000" stroke-width="2.4" stroke-linecap="butt"/>
<line x1="808" y1="603.9" x2="815.5" y2="603.9" stroke="#000" stroke-width="2.9" stroke-linecap="butt"/>
<text transform="translate(803.2 609.5) scale(0.88 1)" font-size="19.5" font-family='"Liberation Serif", "DejaVu Serif", serif' font-weight="bold" text-anchor="end">10</text>
<line x1="808" y1="655.38" x2="815.5" y2="655.38" stroke="#000" stroke-width="2.9" stroke-linecap="butt"/>
<text transform="translate(803.2 660.73) scale(0.88 1)" font-size="19.5" font-family='"Liberation Serif", "DejaVu Serif", serif' font-weight="bold" text-anchor="end">9</text>
<line x1="808" y1="706.87" x2="815.5" y2="706.87" stroke="#000" stroke-width="2.9" stroke-linecap="butt"/>
<text transform="translate(803.2 711.97) scale(0.88 1)" font-size="19.5" font-family='"Liberation Serif", "DejaVu Serif", serif' font-weight="bold" text-anchor="end">8</text>
<line x1="808" y1="758.35" x2="815.5" y2="758.35" stroke="#000" stroke-width="2.9" stroke-linecap="butt"/>
<text transform="translate(803.2 763.2) scale(0.88 1)" font-size="19.5" font-family='"Liberation Serif", "DejaVu Serif", serif' font-weight="bold" text-anchor="end">7</text>
<line x1="808" y1="809.83" x2="815.5" y2="809.83" stroke="#000" stroke-width="2.9" stroke-linecap="butt"/>
<text transform="translate(803.2 814.43) scale(0.88 1)" font-size="19.5" font-family='"Liberation Serif", "DejaVu Serif", serif' font-weight="bold" text-anchor="end">6</text>
<line x1="808" y1="861.32" x2="815.5" y2="861.32" stroke="#000" stroke-width="2.9" stroke-linecap="butt"/>
<text transform="translate(803.2 865.67) scale(0.88 1)" font-size="19.5" font-family='"Liberation Serif", "DejaVu Serif", serif' font-weight="bold" text-anchor="end">5</text>
<text transform="translate(803.2 916.9) scale(0.88 1)" font-size="19.5" font-family='"Liberation Serif", "DejaVu Serif", serif' font-weight="bold" text-anchor="end">4</text>
<line x1="1252.7" y1="603.9" x2="1261.2" y2="603.9" stroke="#000" stroke-width="2.7" stroke-linecap="butt"/>
<text transform="translate(1265.9 609.7) scale(0.94 1)" font-size="19.5" font-family='"Liberation Serif", "DejaVu Serif", serif' font-weight="bold">5<tspan stroke="#000" stroke-width="0.7">×</tspan>10<tspan font-size="13" font-weight="normal" fill="#808080" dx="1.2" dy="-5.9">6</tspan></text>
<line x1="1252.7" y1="665.68" x2="1261.2" y2="665.68" stroke="#000" stroke-width="2.7" stroke-linecap="butt"/>
<text transform="translate(1265.9 671.16) scale(0.94 1)" font-size="19.5" font-family='"Liberation Serif", "DejaVu Serif", serif' font-weight="bold">4<tspan stroke="#000" stroke-width="0.7">×</tspan>10<tspan font-size="13" font-weight="normal" fill="#808080" dx="1.2" dy="-5.9">6</tspan></text>
<line x1="1252.7" y1="727.46" x2="1261.2" y2="727.46" stroke="#000" stroke-width="2.7" stroke-linecap="butt"/>
<text transform="translate(1265.9 732.62) scale(0.94 1)" font-size="19.5" font-family='"Liberation Serif", "DejaVu Serif", serif' font-weight="bold">3<tspan stroke="#000" stroke-width="0.7">×</tspan>10<tspan font-size="13" font-weight="normal" fill="#808080" dx="1.2" dy="-5.9">6</tspan></text>
<line x1="1252.7" y1="789.24" x2="1261.2" y2="789.24" stroke="#000" stroke-width="2.7" stroke-linecap="butt"/>
<text transform="translate(1265.9 794.08) scale(0.94 1)" font-size="19.5" font-family='"Liberation Serif", "DejaVu Serif", serif' font-weight="bold">2<tspan stroke="#000" stroke-width="0.7">×</tspan>10<tspan font-size="13" font-weight="normal" fill="#808080" dx="1.2" dy="-5.9">6</tspan></text>
<line x1="1252.7" y1="851.02" x2="1261.2" y2="851.02" stroke="#000" stroke-width="2.7" stroke-linecap="butt"/>
<text transform="translate(1265.9 855.54) scale(0.94 1)" font-size="19.5" font-family='"Liberation Serif", "DejaVu Serif", serif' font-weight="bold">1<tspan stroke="#000" stroke-width="0.7">×</tspan>10<tspan font-size="13" font-weight="normal" fill="#808080" dx="1.2" dy="-5.9">6</tspan></text>
<text transform="translate(1265.9 917) scale(0.88 1)" font-size="19" font-family='"Liberation Serif", "DejaVu Serif", serif' font-weight="bold">0</text>
<line x1="866.9" y1="912.8" x2="866.9" y2="921.5" stroke="#000" stroke-width="3" stroke-linecap="butt"/>
<text x="866.9" y="942.7" font-size="23.5" font-family='"Liberation Serif", "DejaVu Serif", serif' text-anchor="middle" fill="#000" textLength="11" lengthAdjust="spacingAndGlyphs" stroke="#000" stroke-width="0.3">0</text>
<line x1="924.2" y1="912.8" x2="924.2" y2="921.5" stroke="#000" stroke-width="3" stroke-linecap="butt"/>
<text x="924.2" y="942.7" font-size="23.5" font-family='"Liberation Serif", "DejaVu Serif", serif' text-anchor="middle" fill="#000" textLength="22.5" lengthAdjust="spacingAndGlyphs" stroke="#000" stroke-width="0.3">12</text>
<line x1="979.2" y1="912.8" x2="979.2" y2="921.5" stroke="#000" stroke-width="3" stroke-linecap="butt"/>
<text x="979.2" y="942.7" font-size="23.5" font-family='"Liberation Serif", "DejaVu Serif", serif' text-anchor="middle" fill="#000" textLength="22.5" lengthAdjust="spacingAndGlyphs" stroke="#000" stroke-width="0.3">24</text>
<line x1="1087.9" y1="912.8" x2="1087.9" y2="921.5" stroke="#000" stroke-width="3" stroke-linecap="butt"/>
<text x="1087.9" y="942.7" font-size="23.5" font-family='"Liberation Serif", "DejaVu Serif", serif' text-anchor="middle" fill="#000" textLength="11" lengthAdjust="spacingAndGlyphs" stroke="#000" stroke-width="0.3">0</text>
<line x1="1144.7" y1="912.8" x2="1144.7" y2="921.5" stroke="#000" stroke-width="3" stroke-linecap="butt"/>
<text x="1144.7" y="942.7" font-size="23.5" font-family='"Liberation Serif", "DejaVu Serif", serif' text-anchor="middle" fill="#000" textLength="22.5" lengthAdjust="spacingAndGlyphs" stroke="#000" stroke-width="0.3">12</text>
<line x1="1201.8" y1="912.8" x2="1201.8" y2="921.5" stroke="#000" stroke-width="3" stroke-linecap="butt"/>
<text x="1201.8" y="942.7" font-size="23.5" font-family='"Liberation Serif", "DejaVu Serif", serif' text-anchor="middle" fill="#000" textLength="22.5" lengthAdjust="spacingAndGlyphs" stroke="#000" stroke-width="0.3">24</text>
<text x="1033.5" y="983.3" font-size="23.5" font-family='"Liberation Serif", "DejaVu Serif", serif' text-anchor="middle" fill="#000" textLength="50" lengthAdjust="spacingAndGlyphs" stroke="#000" stroke-width="0.3">Hours</text>
<text x="1033.7" y="631.7" font-size="28" font-family='"Liberation Serif", "DejaVu Serif", serif' text-anchor="middle" fill="#000" font-weight="bold" textLength="45" lengthAdjust="spacingAndGlyphs" >C12</text>
<text transform="translate(770 761) rotate(-90)" font-size="23" stroke="#000" stroke-width="0.3" font-family='"Liberation Serif", "DejaVu Serif", serif' text-anchor="middle" textLength="141" lengthAdjust="spacingAndGlyphs">Log<tspan font-size="15" dy="4">10</tspan><tspan dy="-4">(CFU/mL)</tspan></text>
<text transform="translate(1320.3 759.7) rotate(90)" font-size="24" stroke="#000" stroke-width="0.3" font-family='"Liberation Serif", "DejaVu Serif", serif' text-anchor="middle" textLength="28" lengthAdjust="spacingAndGlyphs">FU</text>
<line x1="865.8" y1="658.3" x2="980" y2="658.3" stroke="#000" stroke-width="1.8" stroke-linecap="butt"/>
<line x1="922.6" y1="657.3" x2="922.6" y2="698.9" stroke="#000" stroke-width="3.6" stroke-linecap="butt"/>
<line x1="979" y1="657.3" x2="979" y2="698.9" stroke="#000" stroke-width="1.8" stroke-linecap="butt"/>
<line x1="924.6" y1="729.4" x2="981.7" y2="729.4" stroke="#000" stroke-width="2.7" stroke-linecap="butt"/>
<line x1="980" y1="727.9" x2="980" y2="807.7" stroke="#000" stroke-width="3.15" stroke-linecap="butt"/>
<line x1="1086.6" y1="743.9" x2="1202.2" y2="743.9" stroke="#000" stroke-width="2.7" stroke-linecap="butt"/>
<line x1="1144.6" y1="742.4" x2="1144.6" y2="807.7" stroke="#000" stroke-width="3.15" stroke-linecap="butt"/>
<line x1="1201.2" y1="742.4" x2="1201.2" y2="831.5" stroke="#000" stroke-width="1.8" stroke-linecap="butt"/>
<text x="932.4" y="654.64" font-size="20.5" font-family='"Liberation Serif", "DejaVu Serif", serif' text-anchor="start" fill="#000" font-weight="bold" textLength="33.6" lengthAdjust="spacingAndGlyphs" >****</text>
<text x="945.1" y="725.94" font-size="20.5" font-family='"Liberation Serif", "DejaVu Serif", serif' text-anchor="start" fill="#000" font-weight="bold" textLength="17.1" lengthAdjust="spacingAndGlyphs" >**</text>
<text x="1138.3" y="740.54" font-size="20.5" font-family='"Liberation Serif", "DejaVu Serif", serif' text-anchor="start" fill="#000" font-weight="bold" textLength="15.4" lengthAdjust="spacingAndGlyphs" >**</text>
<text x="1182.1" y="740.54" font-size="20.5" font-family='"Liberation Serif", "DejaVu Serif", serif' text-anchor="start" fill="#000" font-weight="bold" textLength="24.1" lengthAdjust="spacingAndGlyphs" >***</text>
<rect x="1507.4" y="672.6" width="49.5" height="240.2" fill="#000"/>
<line x1="1532.15" y1="667.1" x2="1532.15" y2="673.6" stroke="#000" stroke-width="2.7" stroke-linecap="butt"/>
<line x1="1519.75" y1="667.1" x2="1544.55" y2="667.1" stroke="#000" stroke-width="2.5" stroke-linecap="butt"/>
<rect x="1562.4" y="690.9" width="51.5" height="221.9" fill="#000"/>
<line x1="1588.15" y1="677.6" x2="1588.15" y2="691.9" stroke="#000" stroke-width="2.7" stroke-linecap="butt"/>
<line x1="1575.75" y1="677.6" x2="1600.55" y2="677.6" stroke="#000" stroke-width="2.5" stroke-linecap="butt"/>
<rect x="1619.3" y="725.9" width="51.5" height="186.9" fill="#000"/>
<line x1="1645.05" y1="714.4" x2="1645.05" y2="726.9" stroke="#000" stroke-width="2.7" stroke-linecap="butt"/>
<line x1="1632.65" y1="714.4" x2="1657.45" y2="714.4" stroke="#000" stroke-width="2.5" stroke-linecap="butt"/>
<rect x="1728.6" y="768.2" width="50.9" height="144.6" fill="#939598"/>
<line x1="1754.05" y1="753.9" x2="1754.05" y2="768.7" stroke="#000" stroke-width="2.7" stroke-linecap="butt"/>
<line x1="1741.65" y1="753.9" x2="1766.45" y2="753.9" stroke="#000" stroke-width="2.5" stroke-linecap="butt"/>
<rect x="1785.6" y="814.5" width="49" height="98.3" fill="#939598"/>
<line x1="1810.1" y1="811" x2="1810.1" y2="815" stroke="#000" stroke-width="2.7" stroke-linecap="butt"/>
<line x1="1797.7" y1="811" x2="1822.5" y2="811" stroke="#000" stroke-width="2.5" stroke-linecap="butt"/>
<rect x="1840.4" y="829" width="51.3" height="83.8" fill="#939598"/>
<line x1="1866.05" y1="827.7" x2="1866.05" y2="829.5" stroke="#000" stroke-width="2.7" stroke-linecap="butt"/>
<line x1="1853.65" y1="827.7" x2="1878.45" y2="827.7" stroke="#000" stroke-width="2.5" stroke-linecap="butt"/>
<line x1="1480.9" y1="602.2" x2="1480.9" y2="914.5" stroke="#000" stroke-width="2.5" stroke-linecap="butt"/>
<line x1="1474.3" y1="912.8" x2="1925.5" y2="912.8" stroke="#000" stroke-width="3.6" stroke-linecap="butt"/>
<line x1="1918.3" y1="602.6" x2="1918.3" y2="912.8" stroke="#000" stroke-width="3.2" stroke-linecap="butt"/>
<line x1="1474" y1="603.9" x2="1481.5" y2="603.9" stroke="#000" stroke-width="2.9" stroke-linecap="butt"/>
<text transform="translate(1469.2 609.5) scale(0.88 1)" font-size="19.5" font-family='"Liberation Serif", "DejaVu Serif", serif' font-weight="bold" text-anchor="end">10</text>
<line x1="1474" y1="655.38" x2="1481.5" y2="655.38" stroke="#000" stroke-width="2.9" stroke-linecap="butt"/>
<text transform="translate(1469.2 660.73) scale(0.88 1)" font-size="19.5" font-family='"Liberation Serif", "DejaVu Serif", serif' font-weight="bold" text-anchor="end">9</text>
<line x1="1474" y1="706.87" x2="1481.5" y2="706.87" stroke="#000" stroke-width="2.9" stroke-linecap="butt"/>
<text transform="translate(1469.2 711.97) scale(0.88 1)" font-size="19.5" font-family='"Liberation Serif", "DejaVu Serif", serif' font-weight="bold" text-anchor="end">8</text>
<line x1="1474" y1="758.35" x2="1481.5" y2="758.35" stroke="#000" stroke-width="2.9" stroke-linecap="butt"/>
<text transform="translate(1469.2 763.2) scale(0.88 1)" font-size="19.5" font-family='"Liberation Serif", "DejaVu Serif", serif' font-weight="bold" text-anchor="end">7</text>
<line x1="1474" y1="809.83" x2="1481.5" y2="809.83" stroke="#000" stroke-width="2.9" stroke-linecap="butt"/>
<text transform="translate(1469.2 814.43) scale(0.88 1)" font-size="19.5" font-family='"Liberation Serif", "DejaVu Serif", serif' font-weight="bold" text-anchor="end">6</text>
<line x1="1474" y1="861.32" x2="1481.5" y2="861.32" stroke="#000" stroke-width="2.9" stroke-linecap="butt"/>
<text transform="translate(1469.2 865.67) scale(0.88 1)" font-size="19.5" font-family='"Liberation Serif", "DejaVu Serif", serif' font-weight="bold" text-anchor="end">5</text>
<text transform="translate(1469.2 916.9) scale(0.88 1)" font-size="19.5" font-family='"Liberation Serif", "DejaVu Serif", serif' font-weight="bold" text-anchor="end">4</text>
<line x1="1918.3" y1="603.9" x2="1926.8" y2="603.9" stroke="#000" stroke-width="2.7" stroke-linecap="butt"/>
<text transform="translate(1931.5 609.7) scale(0.94 1)" font-size="19.5" font-family='"Liberation Serif", "DejaVu Serif", serif' font-weight="bold">5<tspan stroke="#000" stroke-width="0.7">×</tspan>10<tspan font-size="13" font-weight="normal" fill="#808080" dx="1.2" dy="-5.9">6</tspan></text>
<line x1="1918.3" y1="665.68" x2="1926.8" y2="665.68" stroke="#000" stroke-width="2.7" stroke-linecap="butt"/>
<text transform="translate(1931.5 671.16) scale(0.94 1)" font-size="19.5" font-family='"Liberation Serif", "DejaVu Serif", serif' font-weight="bold">4<tspan stroke="#000" stroke-width="0.7">×</tspan>10<tspan font-size="13" font-weight="normal" fill="#808080" dx="1.2" dy="-5.9">6</tspan></text>
<line x1="1918.3" y1="727.46" x2="1926.8" y2="727.46" stroke="#000" stroke-width="2.7" stroke-linecap="butt"/>
<text transform="translate(1931.5 732.62) scale(0.94 1)" font-size="19.5" font-family='"Liberation Serif", "DejaVu Serif", serif' font-weight="bold">3<tspan stroke="#000" stroke-width="0.7">×</tspan>10<tspan font-size="13" font-weight="normal" fill="#808080" dx="1.2" dy="-5.9">6</tspan></text>
<line x1="1918.3" y1="789.24" x2="1926.8" y2="789.24" stroke="#000" stroke-width="2.7" stroke-linecap="butt"/>
<text transform="translate(1931.5 794.08) scale(0.94 1)" font-size="19.5" font-family='"Liberation Serif", "DejaVu Serif", serif' font-weight="bold">2<tspan stroke="#000" stroke-width="0.7">×</tspan>10<tspan font-size="13" font-weight="normal" fill="#808080" dx="1.2" dy="-5.9">6</tspan></text>
<line x1="1918.3" y1="851.02" x2="1926.8" y2="851.02" stroke="#000" stroke-width="2.7" stroke-linecap="butt"/>
<text transform="translate(1931.5 855.54) scale(0.94 1)" font-size="19.5" font-family='"Liberation Serif", "DejaVu Serif", serif' font-weight="bold">1<tspan stroke="#000" stroke-width="0.7">×</tspan>10<tspan font-size="13" font-weight="normal" fill="#808080" dx="1.2" dy="-5.9">6</tspan></text>
<text transform="translate(1931.5 917) scale(0.88 1)" font-size="19" font-family='"Liberation Serif", "DejaVu Serif", serif' font-weight="bold">0</text>
<line x1="1532.15" y1="912.8" x2="1532.15" y2="921.5" stroke="#000" stroke-width="3" stroke-linecap="butt"/>
<text x="1532.15" y="942.7" font-size="23.5" font-family='"Liberation Serif", "DejaVu Serif", serif' text-anchor="middle" fill="#000" textLength="11" lengthAdjust="spacingAndGlyphs" stroke="#000" stroke-width="0.3">0</text>
<line x1="1588.15" y1="912.8" x2="1588.15" y2="921.5" stroke="#000" stroke-width="3" stroke-linecap="butt"/>
<text x="1588.15" y="942.7" font-size="23.5" font-family='"Liberation Serif", "DejaVu Serif", serif' text-anchor="middle" fill="#000" textLength="22.5" lengthAdjust="spacingAndGlyphs" stroke="#000" stroke-width="0.3">12</text>
<line x1="1645.05" y1="912.8" x2="1645.05" y2="921.5" stroke="#000" stroke-width="3" stroke-linecap="butt"/>
<text x="1645.05" y="942.7" font-size="23.5" font-family='"Liberation Serif", "DejaVu Serif", serif' text-anchor="middle" fill="#000" textLength="22.5" lengthAdjust="spacingAndGlyphs" stroke="#000" stroke-width="0.3">24</text>
<line x1="1754.05" y1="912.8" x2="1754.05" y2="921.5" stroke="#000" stroke-width="3" stroke-linecap="butt"/>
<text x="1754.05" y="942.7" font-size="23.5" font-family='"Liberation Serif", "DejaVu Serif", serif' text-anchor="middle" fill="#000" textLength="11" lengthAdjust="spacingAndGlyphs" stroke="#000" stroke-width="0.3">0</text>
<line x1="1810.1" y1="912.8" x2="1810.1" y2="921.5" stroke="#000" stroke-width="3" stroke-linecap="butt"/>
<text x="1810.1" y="942.7" font-size="23.5" font-family='"Liberation Serif", "DejaVu Serif", serif' text-anchor="middle" fill="#000" textLength="22.5" lengthAdjust="spacingAndGlyphs" stroke="#000" stroke-width="0.3">12</text>
<line x1="1866.05" y1="912.8" x2="1866.05" y2="921.5" stroke="#000" stroke-width="3" stroke-linecap="butt"/>
<text x="1866.05" y="942.7" font-size="23.5" font-family='"Liberation Serif", "DejaVu Serif", serif' text-anchor="middle" fill="#000" textLength="22.5" lengthAdjust="spacingAndGlyphs" stroke="#000" stroke-width="0.3">24</text>
<text x="1699.5" y="983.3" font-size="23.5" font-family='"Liberation Serif", "DejaVu Serif", serif' text-anchor="middle" fill="#000" textLength="50" lengthAdjust="spacingAndGlyphs" stroke="#000" stroke-width="0.3">Hours</text>
<text x="1699.7" y="631.7" font-size="28" font-family='"Liberation Serif", "DejaVu Serif", serif' text-anchor="middle" fill="#000" font-weight="bold" textLength="41" lengthAdjust="spacingAndGlyphs" >SA5</text>
<text transform="translate(1436 761) rotate(-90)" font-size="23" stroke="#000" stroke-width="0.3" font-family='"Liberation Serif", "DejaVu Serif", serif' text-anchor="middle" textLength="141" lengthAdjust="spacingAndGlyphs">Log<tspan font-size="15" dy="4">10</tspan><tspan dy="-4">(CFU/mL)</tspan></text>
<text transform="translate(1985.9 759.7) rotate(90)" font-size="24" stroke="#000" stroke-width="0.3" font-family='"Liberation Serif", "DejaVu Serif", serif' text-anchor="middle" textLength="28" lengthAdjust="spacingAndGlyphs">FU</text>
<line x1="1533.8" y1="656.3" x2="1647.4" y2="656.3" stroke="#000" stroke-width="2.88" stroke-linecap="butt"/>
<line x1="1645.7" y1="654.7" x2="1645.7" y2="663.8" stroke="#000" stroke-width="3.15" stroke-linecap="butt"/>
<line x1="1588.9" y1="671.8" x2="1647.4" y2="671.8" stroke="#000" stroke-width="2.88" stroke-linecap="butt"/>
<line x1="1645.7" y1="670.2" x2="1645.7" y2="706.4" stroke="#000" stroke-width="3.15" stroke-linecap="butt"/>
<line x1="1752.8" y1="744.7" x2="1872.1" y2="744.7" stroke="#000" stroke-width="2.43" stroke-linecap="butt"/>
<line x1="1811.1" y1="743.35" x2="1811.1" y2="785.7" stroke="#000" stroke-width="3.15" stroke-linecap="butt"/>
<line x1="1870.4" y1="743.35" x2="1870.4" y2="783.2" stroke="#000" stroke-width="3.15" stroke-linecap="butt"/>
<line x1="1809.1" y1="803.5" x2="1872.9" y2="803.5" stroke="#000" stroke-width="1.8" stroke-linecap="butt"/>
<line x1="1871.2" y1="802.5" x2="1871.2" y2="819" stroke="#000" stroke-width="3.15" stroke-linecap="butt"/>
<text x="1581.8" y="656.44" font-size="20.5" font-family='"Liberation Serif", "DejaVu Serif", serif' text-anchor="start" fill="#000" font-weight="bold" textLength="25.4" lengthAdjust="spacingAndGlyphs" >***</text>
<text x="1613.6" y="674.64" font-size="20.5" font-family='"Liberation Serif", "DejaVu Serif", serif' text-anchor="start" fill="#000" font-weight="bold" textLength="16.6" lengthAdjust="spacingAndGlyphs" >**</text>
<text x="1800.8" y="742.24" font-size="20.5" font-family='"Liberation Serif", "DejaVu Serif", serif' text-anchor="start" fill="#000" font-weight="bold" textLength="16.6" lengthAdjust="spacingAndGlyphs" >**</text>
<text x="1824.6" y="803.54" font-size="20.5" font-family='"Liberation Serif", "DejaVu Serif", serif' text-anchor="start" fill="#000" font-weight="bold" textLength="26.1" lengthAdjust="spacingAndGlyphs" >***</text>
<rect x="841.4" y="1202.6" width="51" height="240.3" fill="#000"/>
<line x1="866.9" y1="1190.8" x2="866.9" y2="1203.6" stroke="#000" stroke-width="2.7" stroke-linecap="butt"/>
<line x1="854.5" y1="1190.8" x2="879.3" y2="1190.8" stroke="#000" stroke-width="2.5" stroke-linecap="butt"/>
<rect x="898.6" y="1171.3" width="51.2" height="271.6" fill="#000"/>
<line x1="924.2" y1="1144.5" x2="924.2" y2="1172.3" stroke="#000" stroke-width="2.7" stroke-linecap="butt"/>
<line x1="911.8" y1="1144.5" x2="936.6" y2="1144.5" stroke="#000" stroke-width="2.5" stroke-linecap="butt"/>
<rect x="953.6" y="1165.8" width="51.2" height="277.1" fill="#000"/>
<line x1="979.2" y1="1140" x2="979.2" y2="1166.8" stroke="#000" stroke-width="2.7" stroke-linecap="butt"/>
<line x1="966.8" y1="1140" x2="991.6" y2="1140" stroke="#000" stroke-width="2.5" stroke-linecap="butt"/>
<rect x="1062.6" y="1298.2" width="50.6" height="144.7" fill="#939598"/>
<line x1="1087.9" y1="1283.9" x2="1087.9" y2="1298.7" stroke="#000" stroke-width="2.7" stroke-linecap="butt"/>
<line x1="1075.5" y1="1283.9" x2="1100.3" y2="1283.9" stroke="#000" stroke-width="2.5" stroke-linecap="butt"/>
<rect x="1119.1" y="1189.6" width="51.2" height="253.3" fill="#939598"/>
<line x1="1144.7" y1="1186.8" x2="1144.7" y2="1190.1" stroke="#000" stroke-width="2.7" stroke-linecap="butt"/>
<line x1="1132.3" y1="1186.8" x2="1157.1" y2="1186.8" stroke="#000" stroke-width="2.5" stroke-linecap="butt"/>
<rect x="1176.2" y="1163.8" width="51.2" height="279.1" fill="#939598"/>
<line x1="1201.8" y1="1156.8" x2="1201.8" y2="1164.3" stroke="#000" stroke-width="2.7" stroke-linecap="butt"/>
<line x1="1189.4" y1="1156.8" x2="1214.2" y2="1156.8" stroke="#000" stroke-width="2.5" stroke-linecap="butt"/>
<line x1="815.5" y1="1132.2" x2="815.5" y2="1444.6" stroke="#000" stroke-width="3.4" stroke-linecap="butt"/>
<line x1="808.3" y1="1442.9" x2="1259.9" y2="1442.9" stroke="#000" stroke-width="3.6" stroke-linecap="butt"/>
<line x1="1252.7" y1="1132.6" x2="1252.7" y2="1442.9" stroke="#000" stroke-width="2.4" stroke-linecap="butt"/>
<line x1="808" y1="1133.9" x2="815.5" y2="1133.9" stroke="#000" stroke-width="2.9" stroke-linecap="butt"/>
<text transform="translate(803.2 1139.5) scale(0.88 1)" font-size="19.5" font-family='"Liberation Serif", "DejaVu Serif", serif' font-weight="bold" text-anchor="end">10</text>
<line x1="808" y1="1185.4" x2="815.5" y2="1185.4" stroke="#000" stroke-width="2.9" stroke-linecap="butt"/>
<text transform="translate(803.2 1190.75) scale(0.88 1)" font-size="19.5" font-family='"Liberation Serif", "DejaVu Serif", serif' font-weight="bold" text-anchor="end">9</text>
<line x1="808" y1="1236.9" x2="815.5" y2="1236.9" stroke="#000" stroke-width="2.9" stroke-linecap="butt"/>
<text transform="translate(803.2 1242) scale(0.88 1)" font-size="19.5" font-family='"Liberation Serif", "DejaVu Serif", serif' font-weight="bold" text-anchor="end">8</text>
<line x1="808" y1="1288.4" x2="815.5" y2="1288.4" stroke="#000" stroke-width="2.9" stroke-linecap="butt"/>
<text transform="translate(803.2 1293.25) scale(0.88 1)" font-size="19.5" font-family='"Liberation Serif", "DejaVu Serif", serif' font-weight="bold" text-anchor="end">7</text>
<line x1="808" y1="1339.9" x2="815.5" y2="1339.9" stroke="#000" stroke-width="2.9" stroke-linecap="butt"/>
<text transform="translate(803.2 1344.5) scale(0.88 1)" font-size="19.5" font-family='"Liberation Serif", "DejaVu Serif", serif' font-weight="bold" text-anchor="end">6</text>
<line x1="808" y1="1391.4" x2="815.5" y2="1391.4" stroke="#000" stroke-width="2.9" stroke-linecap="butt"/>
<text transform="translate(803.2 1395.75) scale(0.88 1)" font-size="19.5" font-family='"Liberation Serif", "DejaVu Serif", serif' font-weight="bold" text-anchor="end">5</text>
<text transform="translate(803.2 1447) scale(0.88 1)" font-size="19.5" font-family='"Liberation Serif", "DejaVu Serif", serif' font-weight="bold" text-anchor="end">4</text>
<line x1="1252.7" y1="1133.9" x2="1261.2" y2="1133.9" stroke="#000" stroke-width="2.7" stroke-linecap="butt"/>
<text transform="translate(1265.9 1139.7) scale(0.94 1)" font-size="19.5" font-family='"Liberation Serif", "DejaVu Serif", serif' font-weight="bold">5<tspan stroke="#000" stroke-width="0.7">×</tspan>10<tspan font-size="13" font-weight="normal" fill="#808080" dx="1.2" dy="-5.9">6</tspan></text>
<line x1="1252.7" y1="1195.7" x2="1261.2" y2="1195.7" stroke="#000" stroke-width="2.7" stroke-linecap="butt"/>
<text transform="translate(1265.9 1201.18) scale(0.94 1)" font-size="19.5" font-family='"Liberation Serif", "DejaVu Serif", serif' font-weight="bold">4<tspan stroke="#000" stroke-width="0.7">×</tspan>10<tspan font-size="13" font-weight="normal" fill="#808080" dx="1.2" dy="-5.9">6</tspan></text>
<line x1="1252.7" y1="1257.5" x2="1261.2" y2="1257.5" stroke="#000" stroke-width="2.7" stroke-linecap="butt"/>
<text transform="translate(1265.9 1262.66) scale(0.94 1)" font-size="19.5" font-family='"Liberation Serif", "DejaVu Serif", serif' font-weight="bold">3<tspan stroke="#000" stroke-width="0.7">×</tspan>10<tspan font-size="13" font-weight="normal" fill="#808080" dx="1.2" dy="-5.9">6</tspan></text>
<line x1="1252.7" y1="1319.3" x2="1261.2" y2="1319.3" stroke="#000" stroke-width="2.7" stroke-linecap="butt"/>
<text transform="translate(1265.9 1324.14) scale(0.94 1)" font-size="19.5" font-family='"Liberation Serif", "DejaVu Serif", serif' font-weight="bold">2<tspan stroke="#000" stroke-width="0.7">×</tspan>10<tspan font-size="13" font-weight="normal" fill="#808080" dx="1.2" dy="-5.9">6</tspan></text>
<line x1="1252.7" y1="1381.1" x2="1261.2" y2="1381.1" stroke="#000" stroke-width="2.7" stroke-linecap="butt"/>
<text transform="translate(1265.9 1385.62) scale(0.94 1)" font-size="19.5" font-family='"Liberation Serif", "DejaVu Serif", serif' font-weight="bold">1<tspan stroke="#000" stroke-width="0.7">×</tspan>10<tspan font-size="13" font-weight="normal" fill="#808080" dx="1.2" dy="-5.9">6</tspan></text>
<text transform="translate(1265.9 1447.1) scale(0.88 1)" font-size="19" font-family='"Liberation Serif", "DejaVu Serif", serif' font-weight="bold">0</text>
<line x1="866.9" y1="1442.9" x2="866.9" y2="1451.6" stroke="#000" stroke-width="3" stroke-linecap="butt"/>
<text x="866.9" y="1472.7" font-size="23.5" font-family='"Liberation Serif", "DejaVu Serif", serif' text-anchor="middle" fill="#000" textLength="11" lengthAdjust="spacingAndGlyphs" stroke="#000" stroke-width="0.3">0</text>
<line x1="924.2" y1="1442.9" x2="924.2" y2="1451.6" stroke="#000" stroke-width="3" stroke-linecap="butt"/>
<text x="924.2" y="1472.7" font-size="23.5" font-family='"Liberation Serif", "DejaVu Serif", serif' text-anchor="middle" fill="#000" textLength="22.5" lengthAdjust="spacingAndGlyphs" stroke="#000" stroke-width="0.3">12</text>
<line x1="979.2" y1="1442.9" x2="979.2" y2="1451.6" stroke="#000" stroke-width="3" stroke-linecap="butt"/>
<text x="979.2" y="1472.7" font-size="23.5" font-family='"Liberation Serif", "DejaVu Serif", serif' text-anchor="middle" fill="#000" textLength="22.5" lengthAdjust="spacingAndGlyphs" stroke="#000" stroke-width="0.3">24</text>
<line x1="1087.9" y1="1442.9" x2="1087.9" y2="1451.6" stroke="#000" stroke-width="3" stroke-linecap="butt"/>
<text x="1087.9" y="1472.7" font-size="23.5" font-family='"Liberation Serif", "DejaVu Serif", serif' text-anchor="middle" fill="#000" textLength="11" lengthAdjust="spacingAndGlyphs" stroke="#000" stroke-width="0.3">0</text>
<line x1="1144.7" y1="1442.9" x2="1144.7" y2="1451.6" stroke="#000" stroke-width="3" stroke-linecap="butt"/>
<text x="1144.7" y="1472.7" font-size="23.5" font-family='"Liberation Serif", "DejaVu Serif", serif' text-anchor="middle" fill="#000" textLength="22.5" lengthAdjust="spacingAndGlyphs" stroke="#000" stroke-width="0.3">12</text>
<line x1="1201.8" y1="1442.9" x2="1201.8" y2="1451.6" stroke="#000" stroke-width="3" stroke-linecap="butt"/>
<text x="1201.8" y="1472.7" font-size="23.5" font-family='"Liberation Serif", "DejaVu Serif", serif' text-anchor="middle" fill="#000" textLength="22.5" lengthAdjust="spacingAndGlyphs" stroke="#000" stroke-width="0.3">24</text>
<text x="1033.5" y="1513.3" font-size="23.5" font-family='"Liberation Serif", "DejaVu Serif", serif' text-anchor="middle" fill="#000" textLength="50" lengthAdjust="spacingAndGlyphs" stroke="#000" stroke-width="0.3">Hours</text>
<text x="1033.7" y="1156.3" font-size="28" font-family='"Liberation Serif", "DejaVu Serif", serif' text-anchor="middle" fill="#000" font-weight="bold" textLength="55.5" lengthAdjust="spacingAndGlyphs" >BCG</text>
<text transform="translate(770 1291) rotate(-90)" font-size="23" stroke="#000" stroke-width="0.3" font-family='"Liberation Serif", "DejaVu Serif", serif' text-anchor="middle" textLength="141" lengthAdjust="spacingAndGlyphs">Log<tspan font-size="15" dy="4">10</tspan><tspan dy="-4">(CFU/mL)</tspan></text>
<text transform="translate(1320.3 1289.7) rotate(90)" font-size="24" stroke="#000" stroke-width="0.3" font-family='"Liberation Serif", "DejaVu Serif", serif' text-anchor="middle" textLength="28" lengthAdjust="spacingAndGlyphs">FU</text>
<line x1="1086.3" y1="1141.3" x2="1165.4" y2="1141.3" stroke="#000" stroke-width="3.15" stroke-linecap="butt"/>
<line x1="1165.4" y1="1140.6" x2="1201.7" y2="1140.6" stroke="#000" stroke-width="1.44" stroke-linecap="butt"/>
<line x1="1088.3" y1="1141.3" x2="1088.3" y2="1265.7" stroke="#000" stroke-width="3.6" stroke-linecap="butt"/>
<line x1="1144.9" y1="1141.3" x2="1144.9" y2="1150.5" stroke="#000" stroke-width="3.6" stroke-linecap="butt"/>
<line x1="1142.9" y1="1156.3" x2="1177.9" y2="1156.3" stroke="#000" stroke-width="3.15" stroke-linecap="butt"/>
<line x1="1144.6" y1="1156.3" x2="1144.6" y2="1178.8" stroke="#000" stroke-width="3.15" stroke-linecap="butt"/>
<text x="1078.2" y="1142.14" font-size="20.5" font-family='"Liberation Serif", "DejaVu Serif", serif' text-anchor="start" fill="#000" font-weight="bold" textLength="25.4" lengthAdjust="spacingAndGlyphs" >***</text>
<text x="1140.3" y="1142.14" font-size="20.5" font-family='"Liberation Serif", "DejaVu Serif", serif' text-anchor="start" fill="#000" font-weight="bold" textLength="16.6" lengthAdjust="spacingAndGlyphs" >**</text>
<text x="1133.3" y="1189.64" font-size="20.5" font-family='"Liberation Serif", "DejaVu Serif", serif' text-anchor="start" fill="#000" font-weight="bold" textLength="24.1" lengthAdjust="spacingAndGlyphs" >***</text>
<rect x="1507.4" y="1211.9" width="49.5" height="231" fill="#000"/>
<line x1="1532.15" y1="1207.6" x2="1532.15" y2="1212.9" stroke="#000" stroke-width="2.7" stroke-linecap="butt"/>
<line x1="1519.75" y1="1207.6" x2="1544.55" y2="1207.6" stroke="#000" stroke-width="2.5" stroke-linecap="butt"/>
<rect x="1562.4" y="1223.1" width="51.5" height="219.8" fill="#000"/>
<line x1="1588.15" y1="1193.3" x2="1588.15" y2="1224.1" stroke="#000" stroke-width="2.7" stroke-linecap="butt"/>
<line x1="1575.75" y1="1193.3" x2="1600.55" y2="1193.3" stroke="#000" stroke-width="2.5" stroke-linecap="butt"/>
<rect x="1619.3" y="1220.9" width="51.5" height="222" fill="#000"/>
<line x1="1645.05" y1="1192.1" x2="1645.05" y2="1221.9" stroke="#000" stroke-width="2.7" stroke-linecap="butt"/>
<line x1="1632.65" y1="1192.1" x2="1657.45" y2="1192.1" stroke="#000" stroke-width="2.5" stroke-linecap="butt"/>
<rect x="1728.6" y="1339" width="50.9" height="103.9" fill="#939598"/>
<line x1="1754.05" y1="1318.5" x2="1754.05" y2="1339.5" stroke="#000" stroke-width="2.7" stroke-linecap="butt"/>
<line x1="1741.65" y1="1318.5" x2="1766.45" y2="1318.5" stroke="#000" stroke-width="2.5" stroke-linecap="butt"/>
<rect x="1785.6" y="1290.7" width="49" height="152.2" fill="#939598"/>
<line x1="1810.1" y1="1282.7" x2="1810.1" y2="1291.2" stroke="#000" stroke-width="2.7" stroke-linecap="butt"/>
<line x1="1797.7" y1="1282.7" x2="1822.5" y2="1282.7" stroke="#000" stroke-width="2.5" stroke-linecap="butt"/>
<rect x="1840.4" y="1280.2" width="51.3" height="162.7" fill="#939598"/>
<line x1="1866.05" y1="1262.7" x2="1866.05" y2="1280.7" stroke="#000" stroke-width="2.7" stroke-linecap="butt"/>
<line x1="1853.65" y1="1262.7" x2="1878.45" y2="1262.7" stroke="#000" stroke-width="2.5" stroke-linecap="butt"/>
<line x1="1480.9" y1="1132.2" x2="1480.9" y2="1444.6" stroke="#000" stroke-width="2.5" stroke-linecap="butt"/>
<line x1="1474.3" y1="1442.9" x2="1925.5" y2="1442.9" stroke="#000" stroke-width="3.6" stroke-linecap="butt"/>
<line x1="1918.3" y1="1132.6" x2="1918.3" y2="1442.9" stroke="#000" stroke-width="3.2" stroke-linecap="butt"/>
<line x1="1474" y1="1133.9" x2="1481.5" y2="1133.9" stroke="#000" stroke-width="2.9" stroke-linecap="butt"/>
<text transform="translate(1469.2 1139.5) scale(0.88 1)" font-size="19.5" font-family='"Liberation Serif", "DejaVu Serif", serif' font-weight="bold" text-anchor="end">10</text>
<line x1="1474" y1="1185.4" x2="1481.5" y2="1185.4" stroke="#000" stroke-width="2.9" stroke-linecap="butt"/>
<text transform="translate(1469.2 1190.75) scale(0.88 1)" font-size="19.5" font-family='"Liberation Serif", "DejaVu Serif", serif' font-weight="bold" text-anchor="end">9</text>
<line x1="1474" y1="1236.9" x2="1481.5" y2="1236.9" stroke="#000" stroke-width="2.9" stroke-linecap="butt"/>
<text transform="translate(1469.2 1242) scale(0.88 1)" font-size="19.5" font-family='"Liberation Serif", "DejaVu Serif", serif' font-weight="bold" text-anchor="end">8</text>
<line x1="1474" y1="1288.4" x2="1481.5" y2="1288.4" stroke="#000" stroke-width="2.9" stroke-linecap="butt"/>
<text transform="translate(1469.2 1293.25) scale(0.88 1)" font-size="19.5" font-family='"Liberation Serif", "DejaVu Serif", serif' font-weight="bold" text-anchor="end">7</text>
<line x1="1474" y1="1339.9" x2="1481.5" y2="1339.9" stroke="#000" stroke-width="2.9" stroke-linecap="butt"/>
<text transform="translate(1469.2 1344.5) scale(0.88 1)" font-size="19.5" font-family='"Liberation Serif", "DejaVu Serif", serif' font-weight="bold" text-anchor="end">6</text>
<line x1="1474" y1="1391.4" x2="1481.5" y2="1391.4" stroke="#000" stroke-width="2.9" stroke-linecap="butt"/>
<text transform="translate(1469.2 1395.75) scale(0.88 1)" font-size="19.5" font-family='"Liberation Serif", "DejaVu Serif", serif' font-weight="bold" text-anchor="end">5</text>
<text transform="translate(1469.2 1447) scale(0.88 1)" font-size="19.5" font-family='"Liberation Serif", "DejaVu Serif", serif' font-weight="bold" text-anchor="end">4</text>
<line x1="1918.3" y1="1133.9" x2="1926.8" y2="1133.9" stroke="#000" stroke-width="2.7" stroke-linecap="butt"/>
<text transform="translate(1931.5 1139.7) scale(0.94 1)" font-size="19.5" font-family='"Liberation Serif", "DejaVu Serif", serif' font-weight="bold">5<tspan stroke="#000" stroke-width="0.7">×</tspan>10<tspan font-size="13" font-weight="normal" fill="#808080" dx="1.2" dy="-5.9">6</tspan></text>
<line x1="1918.3" y1="1211.15" x2="1926.8" y2="1211.15" stroke="#000" stroke-width="2.7" stroke-linecap="butt"/>
<text transform="translate(1931.5 1216.55) scale(0.94 1)" font-size="19.5" font-family='"Liberation Serif", "DejaVu Serif", serif' font-weight="bold">4<tspan stroke="#000" stroke-width="0.7">×</tspan>10<tspan font-size="13" font-weight="normal" fill="#808080" dx="1.2" dy="-5.9">6</tspan></text>
<line x1="1918.3" y1="1288.4" x2="1926.8" y2="1288.4" stroke="#000" stroke-width="2.7" stroke-linecap="butt"/>
<text transform="translate(1931.5 1293.4) scale(0.94 1)" font-size="19.5" font-family='"Liberation Serif", "DejaVu Serif", serif' font-weight="bold">3<tspan stroke="#000" stroke-width="0.7">×</tspan>10<tspan font-size="13" font-weight="normal" fill="#808080" dx="1.2" dy="-5.9">6</tspan></text>
<line x1="1918.3" y1="1365.65" x2="1926.8" y2="1365.65" stroke="#000" stroke-width="2.7" stroke-linecap="butt"/>
<text transform="translate(1931.5 1370.25) scale(0.94 1)" font-size="19.5" font-family='"Liberation Serif", "DejaVu Serif", serif' font-weight="bold">2<tspan stroke="#000" stroke-width="0.7">×</tspan>10<tspan font-size="13" font-weight="normal" fill="#808080" dx="1.2" dy="-5.9">6</tspan></text>
<line x1="1918.3" y1="1442.9" x2="1926.8" y2="1442.9" stroke="#000" stroke-width="2.7" stroke-linecap="butt"/>
<text transform="translate(1931.5 1447.1) scale(0.94 1)" font-size="19.5" font-family='"Liberation Serif", "DejaVu Serif", serif' font-weight="bold">1<tspan stroke="#000" stroke-width="0.7">×</tspan>10<tspan font-size="13" font-weight="normal" fill="#808080" dx="1.2" dy="-5.9">6</tspan></text>
<line x1="1532.15" y1="1442.9" x2="1532.15" y2="1451.6" stroke="#000" stroke-width="3" stroke-linecap="butt"/>
<text x="1532.15" y="1472.7" font-size="23.5" font-family='"Liberation Serif", "DejaVu Serif", serif' text-anchor="middle" fill="#000" textLength="11" lengthAdjust="spacingAndGlyphs" stroke="#000" stroke-width="0.3">0</text>
<line x1="1588.15" y1="1442.9" x2="1588.15" y2="1451.6" stroke="#000" stroke-width="3" stroke-linecap="butt"/>
<text x="1588.15" y="1472.7" font-size="23.5" font-family='"Liberation Serif", "DejaVu Serif", serif' text-anchor="middle" fill="#000" textLength="22.5" lengthAdjust="spacingAndGlyphs" stroke="#000" stroke-width="0.3">12</text>
<line x1="1645.05" y1="1442.9" x2="1645.05" y2="1451.6" stroke="#000" stroke-width="3" stroke-linecap="butt"/>
<text x="1645.05" y="1472.7" font-size="23.5" font-family='"Liberation Serif", "DejaVu Serif", serif' text-anchor="middle" fill="#000" textLength="22.5" lengthAdjust="spacingAndGlyphs" stroke="#000" stroke-width="0.3">24</text>
<line x1="1754.05" y1="1442.9" x2="1754.05" y2="1451.6" stroke="#000" stroke-width="3" stroke-linecap="butt"/>
<text x="1754.05" y="1472.7" font-size="23.5" font-family='"Liberation Serif", "DejaVu Serif", serif' text-anchor="middle" fill="#000" textLength="11" lengthAdjust="spacingAndGlyphs" stroke="#000" stroke-width="0.3">0</text>
<line x1="1810.1" y1="1442.9" x2="1810.1" y2="1451.6" stroke="#000" stroke-width="3" stroke-linecap="butt"/>
<text x="1810.1" y="1472.7" font-size="23.5" font-family='"Liberation Serif", "DejaVu Serif", serif' text-anchor="middle" fill="#000" textLength="22.5" lengthAdjust="spacingAndGlyphs" stroke="#000" stroke-width="0.3">12</text>
<line x1="1866.05" y1="1442.9" x2="1866.05" y2="1451.6" stroke="#000" stroke-width="3" stroke-linecap="butt"/>
<text x="1866.05" y="1472.7" font-size="23.5" font-family='"Liberation Serif", "DejaVu Serif", serif' text-anchor="middle" fill="#000" textLength="22.5" lengthAdjust="spacingAndGlyphs" stroke="#000" stroke-width="0.3">24</text>
<text x="1699.5" y="1513.3" font-size="23.5" font-family='"Liberation Serif", "DejaVu Serif", serif' text-anchor="middle" fill="#000" textLength="50" lengthAdjust="spacingAndGlyphs" stroke="#000" stroke-width="0.3">Hours</text>
<text x="1699.7" y="1156.3" font-size="28" font-family='"Liberation Serif", "DejaVu Serif", serif' text-anchor="middle" fill="#000" font-weight="bold" textLength="133" lengthAdjust="spacingAndGlyphs" >BCG pH 4.5</text>
<text transform="translate(1436 1291) rotate(-90)" font-size="23" stroke="#000" stroke-width="0.3" font-family='"Liberation Serif", "DejaVu Serif", serif' text-anchor="middle" textLength="141" lengthAdjust="spacingAndGlyphs">Log<tspan font-size="15" dy="4">10</tspan><tspan dy="-4">(CFU/mL)</tspan></text>
<text transform="translate(1985.9 1289.7) rotate(90)" font-size="24" stroke="#000" stroke-width="0.3" font-family='"Liberation Serif", "DejaVu Serif", serif' text-anchor="middle" textLength="28" lengthAdjust="spacingAndGlyphs">FU</text>
<line x1="171.8" y1="1135.5" x2="171.8" y2="1465" stroke="#000" stroke-width="3.2" stroke-linecap="butt"/>
<line x1="163.3" y1="1463.5" x2="635.2" y2="1463.5" stroke="#000" stroke-width="3.2" stroke-linecap="butt"/>
<line x1="163.3" y1="1136.8" x2="171.8" y2="1136.8" stroke="#000" stroke-width="2.6" stroke-linecap="butt"/>
<text x="158.2" y="1145" font-size="24.5" font-family='"Liberation Serif", "DejaVu Serif", serif' text-anchor="end" fill="#000" >8</text>
<line x1="163.3" y1="1219.5" x2="171.8" y2="1219.5" stroke="#000" stroke-width="2.6" stroke-linecap="butt"/>
<text x="158.2" y="1227.7" font-size="24.5" font-family='"Liberation Serif", "DejaVu Serif", serif' text-anchor="end" fill="#000" >7</text>
<line x1="163.3" y1="1300.5" x2="171.8" y2="1300.5" stroke="#000" stroke-width="2.6" stroke-linecap="butt"/>
<text x="158.2" y="1308.7" font-size="24.5" font-family='"Liberation Serif", "DejaVu Serif", serif' text-anchor="end" fill="#000" >6</text>
<line x1="163.3" y1="1382" x2="171.8" y2="1382" stroke="#000" stroke-width="2.6" stroke-linecap="butt"/>
<text x="158.2" y="1390.2" font-size="24.5" font-family='"Liberation Serif", "DejaVu Serif", serif' text-anchor="end" fill="#000" >5</text>
<text x="158.2" y="1471.7" font-size="24.5" font-family='"Liberation Serif", "DejaVu Serif", serif' text-anchor="end" fill="#000" >4</text>
<line x1="303.6" y1="1463.5" x2="303.6" y2="1471" stroke="#000" stroke-width="2.8" stroke-linecap="butt"/>
<line x1="500.5" y1="1463.5" x2="500.5" y2="1471" stroke="#000" stroke-width="2.8" stroke-linecap="butt"/>
<text x="302" y="1495.4" font-size="21.5" font-family='"Liberation Serif", "DejaVu Serif", serif' text-anchor="middle" fill="#000" font-weight="bold" textLength="67" lengthAdjust="spacingAndGlyphs" >0 hours</text>
<text x="499.7" y="1495.4" font-size="21.5" font-family='"Liberation Serif", "DejaVu Serif", serif' text-anchor="middle" fill="#000" font-weight="bold" textLength="78.5" lengthAdjust="spacingAndGlyphs" >48 hours</text>
<text x="402" y="1169.5" font-size="25" font-family='"Liberation Serif", "DejaVu Serif", serif' text-anchor="middle" fill="#000" font-weight="bold" textLength="33.5" lengthAdjust="spacingAndGlyphs" >pH</text>
<text transform="translate(107.2 1301) rotate(-90)" font-size="25" stroke="#000" stroke-width="0.3" font-family='"Liberation Serif", "DejaVu Serif", serif' text-anchor="middle" textLength="86" lengthAdjust="spacingAndGlyphs">pH value</text>
<ellipse cx="248.2" cy="1213.3" rx="6.4" ry="6.9" fill="#000"/>
<ellipse cx="266.6" cy="1213.3" rx="6.4" ry="6.9" fill="#000"/>
<ellipse cx="285.3" cy="1213.3" rx="6.4" ry="6.9" fill="#000"/>
<ellipse cx="303.6" cy="1213.3" rx="6.4" ry="6.9" fill="#000"/>
<ellipse cx="322" cy="1213.3" rx="6.4" ry="6.9" fill="#000"/>
<ellipse cx="340.7" cy="1213.3" rx="6.4" ry="6.9" fill="#000"/>
<rect x="353.2" y="1206.8" width="13" height="13.4" fill="#000"/>
<rect x="494.7" y="1228.5" width="13" height="13.4" fill="#000"/>
<ellipse cx="455.5" cy="1426.4" rx="6.4" ry="6.9" fill="#000"/>
<ellipse cx="473.8" cy="1429.4" rx="6.4" ry="6.9" fill="#000"/>
<ellipse cx="492.2" cy="1437.1" rx="6.4" ry="6.9" fill="#000"/>
<ellipse cx="510.5" cy="1430.4" rx="6.4" ry="6.9" fill="#000"/>
<ellipse cx="528.9" cy="1428.7" rx="6.4" ry="6.9" fill="#000"/>
<ellipse cx="547.2" cy="1421" rx="6.4" ry="6.9" fill="#000"/>
</svg>
</body>
</html>
